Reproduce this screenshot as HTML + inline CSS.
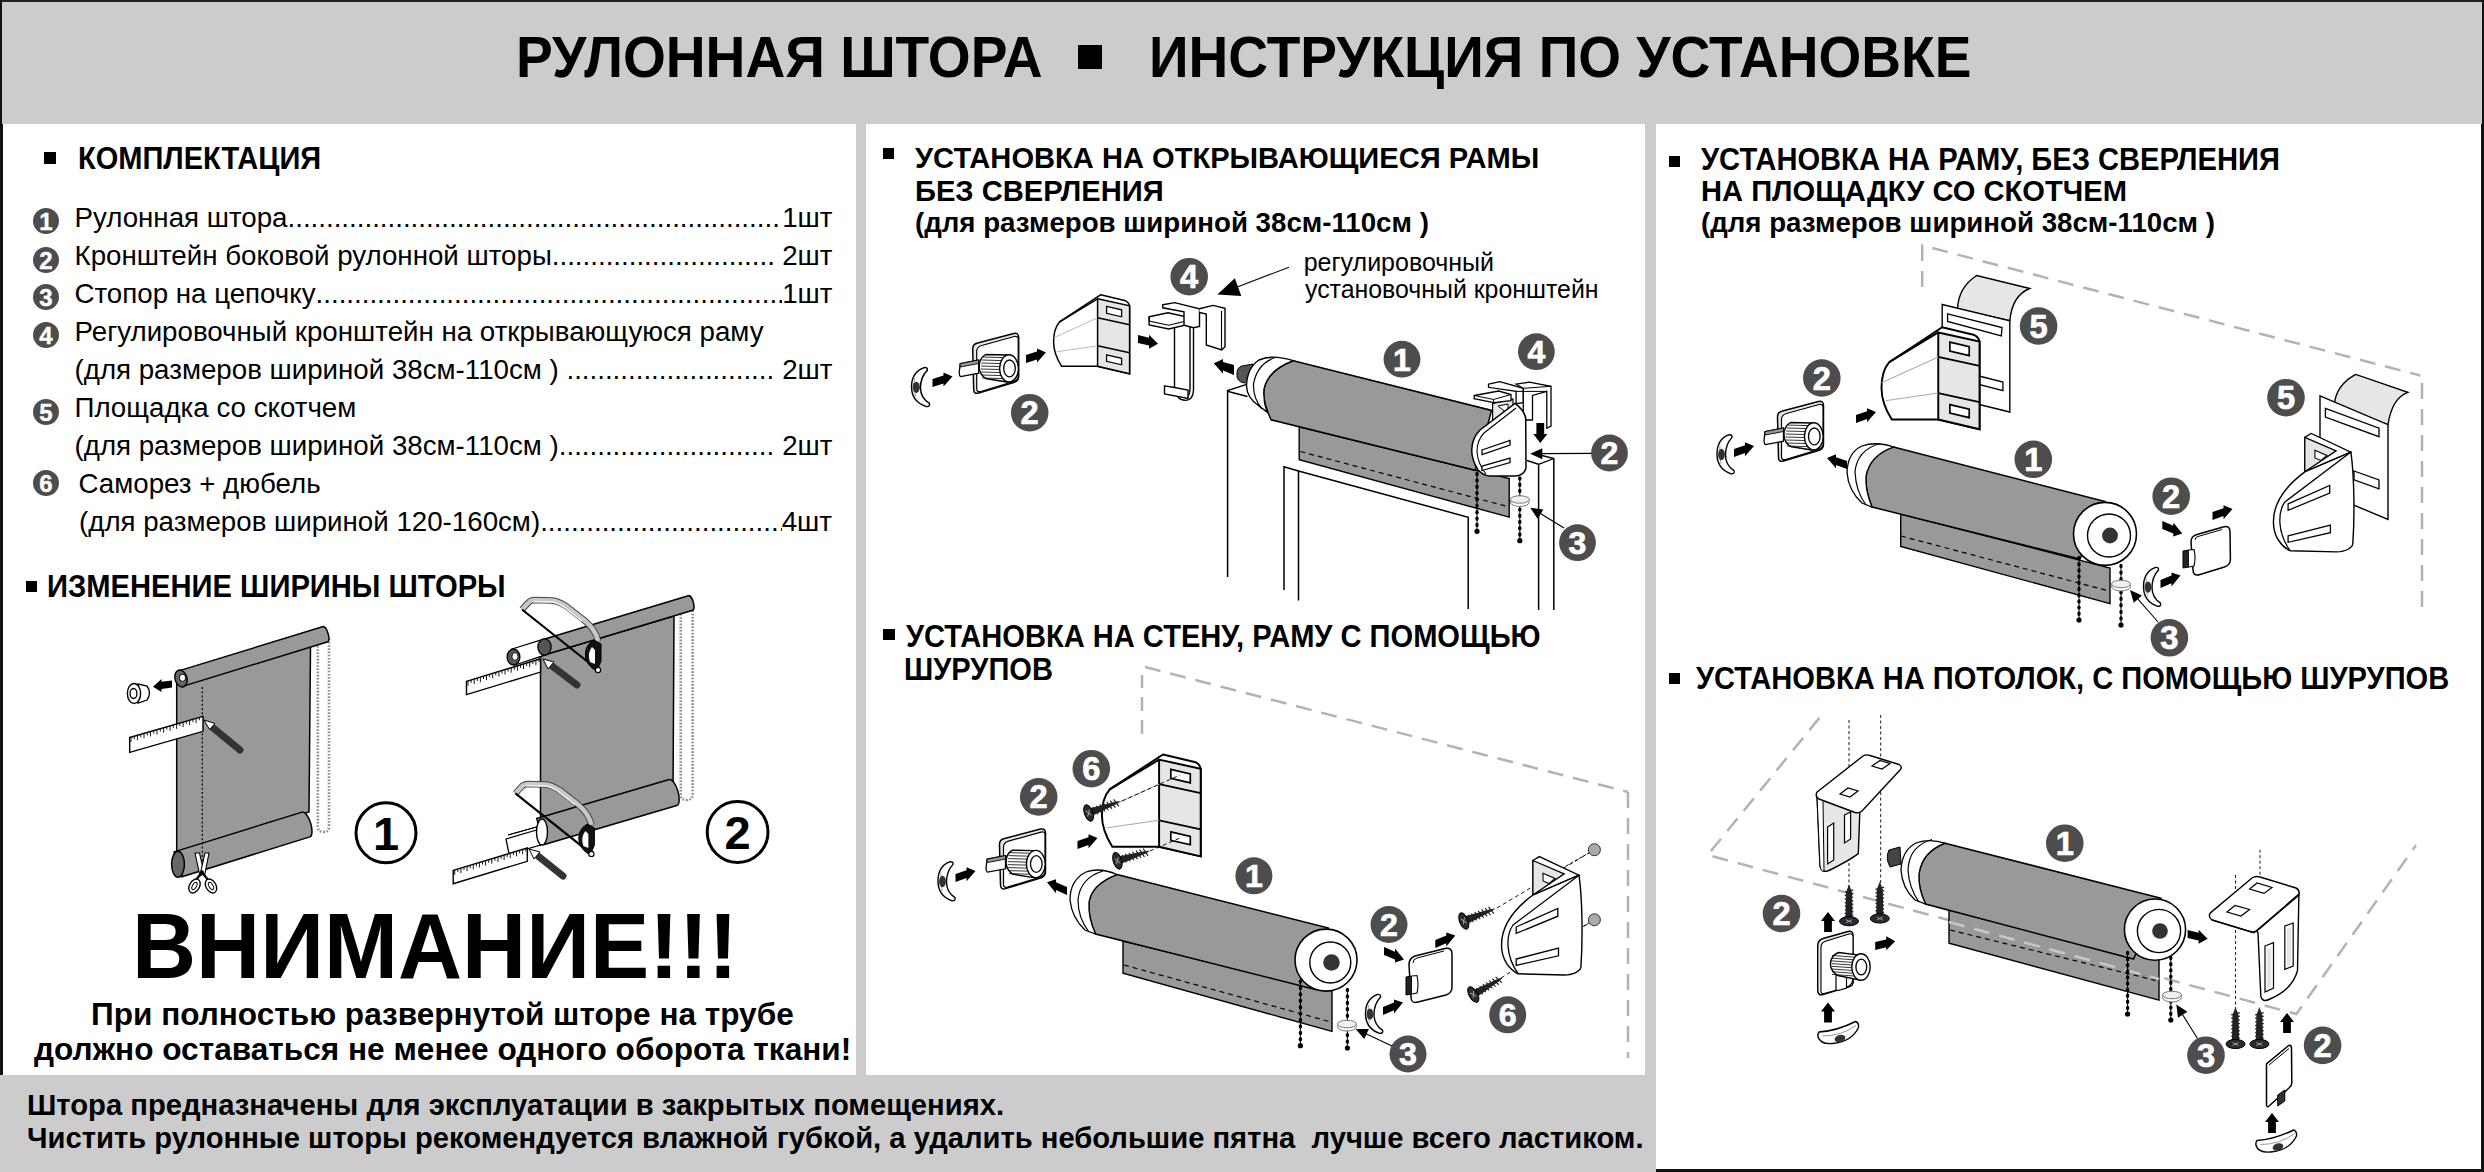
<!DOCTYPE html>
<html><head><meta charset="utf-8">
<style>
*{margin:0;padding:0;box-sizing:border-box}
html,body{width:2484px;height:1172px;overflow:hidden;background:#fff}
body{position:relative;font-family:"Liberation Sans",sans-serif;color:#000}
.a{position:absolute;white-space:nowrap;line-height:1;transform-origin:0 0}
.b{font-weight:bold}
.r{position:absolute}
.sq{position:absolute;background:#000}
svg{position:absolute;left:0;top:0}
</style></head><body>
<div class="r" style="left:0;top:0;width:2484px;height:2px;background:#222"></div>
<div class="r" style="left:0;top:0;width:3px;height:1075px;background:#111"></div>
<div class="r" style="left:2481px;top:0;width:3px;height:1172px;background:#111"></div>
<div class="r" style="left:1654px;top:1169px;width:830px;height:3px;background:#111"></div>
<div class="r" style="left:2px;top:2px;width:2480px;height:122px;background:#cccccc"></div>
<div class="r" style="left:856px;top:123px;width:10px;height:952px;background:#cccccc"></div>
<div class="r" style="left:1645px;top:123px;width:11px;height:1049px;background:#cccccc"></div>
<div class="r" style="left:0;top:1075px;width:1656px;height:97px;background:#cccccc"></div>
<div class="sq" style="left:1078px;top:45px;width:24px;height:24px"></div>
<div class="sq" style="left:44px;top:152px;width:12px;height:12px"></div>
<div class="sq" style="left:26px;top:581px;width:11px;height:11px"></div>
<div class="sq" style="left:883px;top:148px;width:11px;height:11px"></div>
<div class="sq" style="left:883px;top:629px;width:12px;height:11px"></div>
<div class="sq" style="left:1669px;top:156px;width:11px;height:11px"></div>
<div class="sq" style="left:1669px;top:673px;width:11px;height:11px"></div>

<div class="a b" style="left:515.5px;top:30.3px;font-size:56.69px;transform:scaleX(0.9724);">РУЛОННАЯ ШТОРА</div>
<div class="a b" style="left:1148.7px;top:30.3px;font-size:56.69px;transform:scaleX(0.9707);">ИНСТРУКЦИЯ ПО УСТАНОВКЕ</div>
<div class="a b" style="left:78.4px;top:143.0px;font-size:30.52px;transform:scaleX(0.9508);">КОМПЛЕКТАЦИЯ</div>
<div class="a b" style="left:46.9px;top:571.2px;font-size:30.52px;transform:scaleX(0.9559);">ИЗМЕНЕНИЕ ШИРИНЫ ШТОРЫ</div>
<div class="a b" style="left:914.9px;top:143.3px;font-size:30.23px;transform:scaleX(0.9631);">УСТАНОВКА НА ОТКРЫВАЮЩИЕСЯ РАМЫ</div>
<div class="a b" style="left:915.1px;top:176.1px;font-size:29.94px;transform:scaleX(0.9732);">БЕЗ СВЕРЛЕНИЯ</div>
<div class="a b" style="left:914.7px;top:208.9px;font-size:28.00px;transform:scaleX(0.9884);">(для размеров шириной 38см-110см )</div>
<div class="a b" style="left:905.5px;top:621.2px;font-size:30.52px;transform:scaleX(0.9531);">УСТАНОВКА НА СТЕНУ, РАМУ С ПОМОЩЬЮ</div>
<div class="a b" style="left:904.3px;top:653.7px;font-size:30.52px;transform:scaleX(0.9529);">ШУРУПОВ</div>
<div class="a" style="left:1303.7px;top:249.6px;font-size:25.00px;">регулировочный</div>
<div class="a" style="left:1305.2px;top:277.3px;font-size:25.00px;transform:scaleX(0.9950);">установочный кронштейн</div>
<div class="a b" style="left:1701.0px;top:143.6px;font-size:30.52px;transform:scaleX(0.9543);">УСТАНОВКА НА РАМУ, БЕЗ СВЕРЛЕНИЯ</div>
<div class="a b" style="left:1701.0px;top:176.3px;font-size:30.23px;transform:scaleX(0.9638);">НА ПЛОЩАДКУ СО СКОТЧЕМ</div>
<div class="a b" style="left:1700.7px;top:209.4px;font-size:28.00px;transform:scaleX(0.9886);">(для размеров шириной 38см-110см )</div>
<div class="a b" style="left:1695.8px;top:663.3px;font-size:31.25px;transform:scaleX(0.9306);">УСТАНОВКА НА ПОТОЛОК, С ПОМОЩЬЮ ШУРУПОВ</div>
<div class="a b" style="left:132.4px;top:900.3px;font-size:92.73px;transform:scaleX(0.9573);">ВНИМАНИЕ!!!</div>
<div class="a b" style="left:90.8px;top:998.5px;font-size:31.25px;transform:scaleX(1.0102);">При полностью развернутой шторе на трубе</div>
<div class="a b" style="left:34.2px;top:1034.1px;font-size:31.25px;transform:scaleX(1.0112);">должно оставаться не менее одного оборота ткани!</div>
<div class="a b" style="left:26.6px;top:1091.4px;font-size:29.07px;transform:scaleX(1.0051);">Штора предназначены для эксплуатации в закрытых помещениях.</div>
<div class="a b" style="left:26.9px;top:1123.9px;font-size:29.07px;transform:scaleX(1.0044);">Чистить рулонные шторы рекомендуется влажной губкой, а удалить небольшие пятна&nbsp; лучше всего ластиком.</div>
<style>
.ld{position:absolute;display:flex;white-space:nowrap;line-height:1;font-size:27.7px}
.ld .d{flex:1 1 0;overflow:hidden;min-width:0}
.ci{position:absolute;width:26px;height:26px;border-radius:50%;background:#4d4d4d;color:#fff;font-weight:bold;font-size:24px;line-height:28px;-webkit-text-stroke:0.4px #fff;text-align:center}
</style>
<div class="ld" style="left:74.5px;top:203.85px;width:758px"><span>Рулонная штора</span><span class="d">..............................................................................................................</span><span>1шт</span></div>
<div class="ld" style="left:74.5px;top:241.9px;width:758px"><span>Кронштейн боковой рулонной шторы</span><span class="d">..............................................................................................................</span><span>&nbsp;2шт</span></div>
<div class="ld" style="left:74.5px;top:279.95px;width:758px"><span>Стопор на цепочку</span><span class="d">..............................................................................................................</span><span>1шт</span></div>
<div class="ld" style="left:74.5px;top:318px;width:758px"><span>Регулировочный кронштейн на открывающуюся раму</span></div>
<div class="ld" style="left:74.5px;top:356.05px;width:758px"><span>(для размеров шириной 38см-110см )&nbsp;</span><span class="d">..............................................................................................................</span><span>&nbsp;2шт</span></div>
<div class="ld" style="left:74.5px;top:394.1px;width:758px"><span>Площадка со скотчем</span></div>
<div class="ld" style="left:74.5px;top:432.15px;width:758px"><span>(для размеров шириной 38см-110см )</span><span class="d">..............................................................................................................</span><span>&nbsp;2шт</span></div>
<div class="ld" style="left:78.5px;top:470.2px;width:754px"><span>Саморез + дюбель</span></div>
<div class="ld" style="left:79px;top:508.25px;width:753px"><span>(для размеров шириной 120-160см)</span><span class="d">..............................................................................................................</span><span>4шт</span></div>
<div class="ci" style="left:33px;top:208.3px">1</div>
<div class="ci" style="left:33px;top:246.9px">2</div>
<div class="ci" style="left:33px;top:284px">3</div>
<div class="ci" style="left:33px;top:322px">4</div>
<div class="ci" style="left:33px;top:399px">5</div>
<div class="ci" style="left:33px;top:469.6px">6</div>

<svg width="2484" height="1172" viewBox="0 0 2484 1172" style="position:absolute;left:0;top:0">
<path d="M317.8,646 L317.8,826 Q317.8,832 323.4,832 Q329,832 329,826 L329,639" fill="none" stroke="#8a8a8a" stroke-width="2.6" stroke-dasharray="1.6,1.6"/>
<polygon points="176.7,684.0 310.5,646.0 309.0,812.0 176.7,852.0" fill="#999" stroke="#000" stroke-width="1.5"/>
<path d="M178.7,670.9 L323.2,626.6 A8 3.0 73.0 0 1 327.8,641.8 L183.3,686.1 Z" fill="#999" stroke="#000" stroke-width="1.5"/>
<ellipse cx="181" cy="678.5" rx="6" ry="8.6" fill="#666" stroke="#000" stroke-width="1.4" transform="rotate(-17 181 678.5)"/>
<ellipse cx="182.5" cy="677.8" rx="3.2" ry="3.6" fill="#fff" stroke="#000" stroke-width="1"/>
<path d="M174.1,851.9 L302.1,812.1 A13 4.9 72.7 0 1 309.9,836.9 L181.9,876.7 Z" fill="#999" stroke="#000" stroke-width="1.5"/>
<ellipse cx="178" cy="864.3" rx="6.4" ry="13" fill="#666" stroke="#000" stroke-width="1.5"/>
<line x1="202.3" y1="687" x2="202.3" y2="876" stroke="#000" stroke-width="1.2" stroke-dasharray="2,2.2"/>
<polygon points="129.7,737.5 203.0,716.4 203.0,731.3 129.7,752.3" fill="#fff" stroke="#000" stroke-width="1.4"/>
<path d="M131.0,737.1 l0,5 M134.3,736.2 l0,3 M137.5,735.2 l0,5 M140.8,734.3 l0,3 M144.0,733.3 l0,5 M147.3,732.4 l0,3 M150.5,731.4 l0,5 M153.8,730.5 l0,3 M157.0,729.5 l0,5 M160.3,728.6 l0,3 M163.6,727.7 l0,5 M166.8,726.7 l0,3 M170.1,725.8 l0,5 M173.3,724.8 l0,3 M176.6,723.9 l0,5 M179.8,722.9 l0,3 M183.1,722.0 l0,5 M186.3,721.0 l0,3 M189.6,720.1 l0,5 M192.9,719.2 l0,3 M196.1,718.2 l0,5 M199.4,717.3 l0,3" stroke="#000" stroke-width="0.9"/>
<line x1="212" y1="727" x2="240" y2="750" stroke="#333" stroke-width="7" stroke-linecap="round"/>
<polygon points="204,720 215,723.5 209.5,729.5" fill="#fff" stroke="#000" stroke-width="1"/>
<path d="M195,853 L199.5,853 L204,873 L200,876 Z" fill="#fff" stroke="#000" stroke-width="1.1"/>
<path d="M209,853 L205,853 L200.5,873 L204.5,876 Z" fill="#fff" stroke="#000" stroke-width="1.1"/>
<path d="M202,872 L196,880 M202,872 L208,880" stroke="#000" stroke-width="2.2"/>
<ellipse cx="194.5" cy="886" rx="5" ry="7.5" transform="rotate(30 194.5 886)" fill="#fff" stroke="#000" stroke-width="1.4"/>
<ellipse cx="194.5" cy="886" rx="2" ry="4" transform="rotate(30 194.5 886)" fill="#fff" stroke="#000" stroke-width="1"/>
<ellipse cx="211" cy="886" rx="5" ry="7.5" transform="rotate(-30 211 886)" fill="#fff" stroke="#000" stroke-width="1.4"/>
<ellipse cx="211" cy="886" rx="2" ry="4" transform="rotate(-30 211 886)" fill="#fff" stroke="#000" stroke-width="1"/>
<circle cx="202" cy="872" r="1.8" fill="#000"/>
<path d="M138,684 L147,686 Q152,693 147,700 L138,703 Z" fill="#fff" stroke="#000" stroke-width="1.3"/>
<ellipse cx="134" cy="693.5" rx="6.6" ry="10" fill="#fff" stroke="#000" stroke-width="1.4"/>
<ellipse cx="133.5" cy="693.5" rx="3.4" ry="5" fill="#fff" stroke="#000" stroke-width="1.3"/>
<polygon transform="matrix(-1,0.1385,0,1,172,684)" points="0.0,-3.6 10.5,-3.6 10.5,-6.5 19.0,0.0 10.5,6.5 10.5,3.6 0.0,3.6" fill="#000"/>
<circle cx="386" cy="832.8" r="30" fill="#fff" stroke="#000" stroke-width="3"/>
<text x="386" y="849.6" font-size="47" font-weight="bold" fill="#000" text-anchor="middle" font-family="Liberation Sans">1</text>
<path d="M680.7,614 L680.7,794 Q680.7,800 686.6,800 Q692.6,800 692.6,794 L692.6,608" fill="none" stroke="#8a8a8a" stroke-width="2.6" stroke-dasharray="1.6,1.6"/>
<polygon points="540.5,656.0 674.0,616.0 673.0,796.0 540.5,831.0" fill="#999" stroke="#000" stroke-width="1.5"/>
<path d="M542.3,639.7 L688.3,595.7 A7.6 2.9 73.2 0 1 692.7,610.3 L546.7,654.3 Z" fill="#999" stroke="#000" stroke-width="1.5"/>
<polygon points="512.0,649.0 543.0,639.3 546.0,654.7 515.0,665.0" fill="#fff" stroke="#000" stroke-width="1.3"/>
<ellipse cx="544.5" cy="647" rx="6.6" ry="8.2" fill="#555" stroke="#000" stroke-width="1.3"/>
<ellipse cx="513.5" cy="657" rx="6.4" ry="8" fill="#555" stroke="#000" stroke-width="1.3"/>
<ellipse cx="515" cy="656.5" rx="3" ry="3.8" fill="#fff" stroke="#000" stroke-width="0.8"/>
<path d="M536.7,818.5 L669.2,779.5 A13.5 5.1 73.6 0 1 676.8,805.5 L544.3,844.5 Z" fill="#999" stroke="#000" stroke-width="1.5"/>
<polygon points="506.0,839.0 540.0,829.0 544.0,844.0 509.0,854.0" fill="#fff" stroke="#000" stroke-width="1.3"/>
<polygon points="508.0,835.0 540.0,826.0" fill="none" stroke="#000" stroke-width="1"/>
<ellipse cx="542" cy="832" rx="5.5" ry="13" fill="#fff" stroke="#000" stroke-width="1.4"/>
<polygon points="466.5,681.3 540.5,658.8 540.5,672.1 466.5,694.6" fill="#fff" stroke="#000" stroke-width="1.4"/>
<path d="M468.0,680.8 l0,5 M471.1,679.9 l0,3 M474.2,679.0 l0,5 M477.3,678.0 l0,3 M480.4,677.1 l0,5 M483.5,676.1 l0,3 M486.5,675.2 l0,5 M489.6,674.3 l0,3 M492.7,673.3 l0,5 M495.8,672.4 l0,3 M498.9,671.5 l0,5 M502.0,670.5 l0,3 M505.0,669.6 l0,5 M508.1,668.6 l0,3 M511.2,667.7 l0,5 M514.3,666.8 l0,3 M517.4,665.8 l0,5 M520.5,664.9 l0,3 M523.5,664.0 l0,5 M526.6,663.0 l0,3 M529.7,662.1 l0,5 M532.8,661.1 l0,3 M535.9,660.2 l0,5 M539.0,659.3 l0,3" stroke="#000" stroke-width="0.9"/>
<polygon points="453.2,870.4 527.3,848.0 527.3,861.3 453.2,883.7" fill="#fff" stroke="#000" stroke-width="1.4"/>
<path d="M454.7,869.9 l0,5 M457.8,869.0 l0,3 M460.9,868.1 l0,5 M464.0,867.1 l0,3 M467.1,866.2 l0,5 M470.2,865.3 l0,3 M473.3,864.3 l0,5 M476.4,863.4 l0,3 M479.4,862.5 l0,5 M482.5,861.5 l0,3 M485.6,860.6 l0,5 M488.7,859.7 l0,3 M491.8,858.7 l0,5 M494.9,857.8 l0,3 M498.0,856.9 l0,5 M501.1,855.9 l0,3 M504.1,855.0 l0,5 M507.2,854.1 l0,3 M510.3,853.1 l0,5 M513.4,852.2 l0,3 M516.5,851.3 l0,5 M519.6,850.3 l0,3 M522.7,849.4 l0,5 M525.8,848.5 l0,3" stroke="#000" stroke-width="0.9"/>
<line x1="552" y1="666" x2="577" y2="685" stroke="#333" stroke-width="7" stroke-linecap="round"/>
<polygon points="543,659 554,662 548,669" fill="#fff" stroke="#000" stroke-width="1"/>
<line x1="538" y1="856" x2="563" y2="876" stroke="#333" stroke-width="7" stroke-linecap="round"/>
<polygon points="529,849 540,852 534,859" fill="#fff" stroke="#000" stroke-width="1"/>
<g transform="translate(0,0)"><path d="M522,609.5 L529,602 Q531,600 535,600 L552,600.5 Q558,601 566,606 L584,620 Q596,630 598,641" fill="none" stroke="#444" stroke-width="6.5" stroke-linejoin="round"/><path d="M522,609.5 L529,602 Q531,600 535,600 L552,600.5 Q558,601 566,606 L584,620 Q596,630 598,641" fill="none" stroke="#c8c8c8" stroke-width="4.5" stroke-linejoin="round"/><path d="M533,601.5 L552,602 Q557,602.5 564,607 L582,621" fill="none" stroke="#eee" stroke-width="1.5"/><line x1="522" y1="609.5" x2="598" y2="670" stroke="#000" stroke-width="2.2"/><path d="M594,640 Q583,646 586,660 Q590,668 597,671 L601,661 L601,644 Z" fill="#111" stroke="#000" stroke-width="1"/><path d="M592,647 Q587,653 590,662 L595,664 L595,650 Z" fill="#fff"/><circle cx="598" cy="670" r="2.6" fill="#fff" stroke="#000" stroke-width="1.2"/></g>
<g transform="translate(-6.6,183.9)"><path d="M522,609.5 L529,602 Q531,600 535,600 L552,600.5 Q558,601 566,606 L584,620 Q596,630 598,641" fill="none" stroke="#444" stroke-width="6.5" stroke-linejoin="round"/><path d="M522,609.5 L529,602 Q531,600 535,600 L552,600.5 Q558,601 566,606 L584,620 Q596,630 598,641" fill="none" stroke="#c8c8c8" stroke-width="4.5" stroke-linejoin="round"/><path d="M533,601.5 L552,602 Q557,602.5 564,607 L582,621" fill="none" stroke="#eee" stroke-width="1.5"/><line x1="522" y1="609.5" x2="598" y2="670" stroke="#000" stroke-width="2.2"/><path d="M594,640 Q583,646 586,660 Q590,668 597,671 L601,661 L601,644 Z" fill="#111" stroke="#000" stroke-width="1"/><path d="M592,647 Q587,653 590,662 L595,664 L595,650 Z" fill="#fff"/><circle cx="598" cy="670" r="2.6" fill="#fff" stroke="#000" stroke-width="1.2"/></g>
<circle cx="737.6" cy="832" r="30.4" fill="#fff" stroke="#000" stroke-width="3"/>
<text x="737.6" y="848.8" font-size="47" font-weight="bold" fill="#000" text-anchor="middle" font-family="Liberation Sans">2</text>
</svg>

<svg width="2484" height="1172" viewBox="0 0 2484 1172" style="position:absolute;left:0;top:0">
<polyline points="1227.6,577 1227.6,390.5 1246,384.6" stroke="#000" stroke-width="1.5" fill="none"/>
<polyline points="1284,590 1284,466.7 1298.5,471" stroke="#000" stroke-width="1.5" fill="none"/>
<polyline points="1298.5,600.5 1298.5,471 1468.2,517.2 1468.2,609" stroke="#000" stroke-width="1.5" fill="none"/>
<polyline points="1538.6,610 1538.6,464.4 1527,460.5" stroke="#000" stroke-width="1.5" fill="none"/>
<polyline points="1553.8,610 1553.8,458.5 1540,455" stroke="#000" stroke-width="1.5" fill="none"/>
<line x1="1538.6" y1="464.4" x2="1553.8" y2="458.5" stroke="#000" stroke-width="1.3"/>
<polygon points="1299.2,426.8 1509.2,478.5 1509.2,517.2 1299.2,459.7" fill="#999" stroke="#000" stroke-width="1.4"/>
<line x1="1300.4" y1="451.5" x2="1508" y2="506.6" stroke="#000" stroke-width="1.2" stroke-dasharray="5,4"/>
<path d="M1293.3,360.7 L1491.6,410.4 L1475.2,470.3 L1271,419.8 Q1262,400 1264,389 Q1268,370 1293.3,360.7 Z" fill="#999" stroke="#000" stroke-width="1.5"/>
<path d="M1242,366 L1253,364 L1255,381 L1244,383 Q1236,381 1237,374 Q1237,367 1242,366 Z" fill="#555" stroke="#000" stroke-width="1"/>
<path d="M1293.3,360.7 Q1268,370 1264,389 Q1263,401 1267,412 L1259,406 Q1247,398 1246.5,386 Q1247,368 1259,360 Q1272,354 1293.3,360.7 Z" fill="#fff" stroke="#000" stroke-width="1.4"/>
<path d="M1275,357.5 Q1257,364 1253.5,384 Q1253,398 1262,409" fill="none" stroke="#000" stroke-width="1.2"/>
<polyline points="1227.3,391.3 1247.5,396.5" fill="none" stroke="#000" stroke-width="1.4"/>
<polygon transform="matrix(-1,-0.3896,0,1,1234,371)" points="0.0,-3.9 11.0,-3.9 11.0,-7.0 20.0,0.0 11.0,7.0 11.0,3.9 0.0,3.9" fill="#000"/>
<path d="M1492.6,403.7 L1513,399 L1513,422 L1492.6,426 Z" fill="#e6e6e6" stroke="#000" stroke-width="1.2"/>
<path d="M1498,406 L1508,404 L1508,414 Z" fill="#fff" stroke="#000" stroke-width="1"/>
<path d="M1474.2,395.5 L1498.7,391 L1511,394.5 L1511,400.6 L1493.6,402.7 L1474.2,398.6 Z" fill="#fff" stroke="#000" stroke-width="1.3"/>
<path d="M1474.2,395.5 L1493.6,399.5 L1511,394.5 M1493.6,399.5 L1493.6,402.7" fill="none" stroke="#000" stroke-width="1"/>
<path d="M1488.5,384.2 L1499.8,381.6 L1523.3,388.3 L1523.3,402.7 L1516.1,403.7 L1516.1,391.4 L1488.5,387.3 Z" fill="#fff" stroke="#000" stroke-width="1.3"/>
<path d="M1516.1,384.2 L1529.4,382.2 L1551,386.3 L1551,426.2 L1546.8,428.3 L1546.8,391.4 L1532.5,395.5 L1532.5,420 L1523.3,420 L1523.3,388.3 Z" fill="#fff" stroke="#000" stroke-width="1.3"/>
<path d="M1516.1,391.4 L1546.8,391.4 M1523.3,388.3 L1551,386.3" fill="none" stroke="#000" stroke-width="1"/>
<path d="M1515,403.4 Q1524,410 1525.7,418 L1526,468 Q1524,476 1515,476 L1490,476 Q1484,476 1478,470 Q1471.7,460 1471.7,450 Q1472,438 1480,430 Z" fill="#fff" stroke="#000" stroke-width="1.5"/>
<path d="M1477,452 Q1477,440 1484,433 L1516,408" fill="none" stroke="#000" stroke-width="1.1"/>
<path d="M1477,452 Q1478,464 1486,474" fill="none" stroke="#000" stroke-width="1.1"/>
<polygon points="1482,450 1510,440.5 1510,445 1482,454.5" fill="#fff" stroke="#000" stroke-width="1.3"/>
<polygon points="1482,466 1510,458 1510,462.5 1482,470.5" fill="#fff" stroke="#000" stroke-width="1.3"/>
<polygon transform="translate(1540.3,423) rotate(90)" points="0.0,-3.9 11.0,-3.9 11.0,-7.0 20.0,0.0 11.0,7.0 11.0,3.9 0.0,3.9" fill="#000"/>
<line x1="1477" y1="474" x2="1477" y2="531.3" stroke="#000" stroke-width="1"/>
<ellipse cx="1477" cy="474.0" rx="1.7" ry="2.2" fill="#000"/>
<ellipse cx="1477" cy="480.4" rx="1.7" ry="2.2" fill="#000"/>
<ellipse cx="1477" cy="486.7" rx="1.7" ry="2.2" fill="#000"/>
<ellipse cx="1477" cy="493.1" rx="1.7" ry="2.2" fill="#000"/>
<ellipse cx="1477" cy="499.5" rx="1.7" ry="2.2" fill="#000"/>
<ellipse cx="1477" cy="505.8" rx="1.7" ry="2.2" fill="#000"/>
<ellipse cx="1477" cy="512.2" rx="1.7" ry="2.2" fill="#000"/>
<ellipse cx="1477" cy="518.6" rx="1.7" ry="2.2" fill="#000"/>
<ellipse cx="1477" cy="524.9" rx="1.7" ry="2.2" fill="#000"/>
<ellipse cx="1477" cy="531.3" rx="1.7" ry="2.2" fill="#000"/>
<circle cx="1477" cy="531.3" r="2.6" fill="#000"/>
<line x1="1519.8" y1="478.5" x2="1519.8" y2="540.7" stroke="#000" stroke-width="1"/>
<ellipse cx="1519.8" cy="478.5" rx="1.7" ry="2.2" fill="#000"/>
<ellipse cx="1519.8" cy="484.7" rx="1.7" ry="2.2" fill="#000"/>
<ellipse cx="1519.8" cy="490.9" rx="1.7" ry="2.2" fill="#000"/>
<ellipse cx="1519.8" cy="497.2" rx="1.7" ry="2.2" fill="#000"/>
<ellipse cx="1519.8" cy="503.4" rx="1.7" ry="2.2" fill="#000"/>
<ellipse cx="1519.8" cy="509.6" rx="1.7" ry="2.2" fill="#000"/>
<ellipse cx="1519.8" cy="515.8" rx="1.7" ry="2.2" fill="#000"/>
<ellipse cx="1519.8" cy="522.0" rx="1.7" ry="2.2" fill="#000"/>
<ellipse cx="1519.8" cy="528.3" rx="1.7" ry="2.2" fill="#000"/>
<ellipse cx="1519.8" cy="534.5" rx="1.7" ry="2.2" fill="#000"/>
<ellipse cx="1519.8" cy="540.7" rx="1.7" ry="2.2" fill="#000"/>
<circle cx="1519.8" cy="540.7" r="2.6" fill="#000"/>
<ellipse cx="1519.8" cy="502.0" rx="9.5" ry="4.5" fill="#fff" stroke="#777" stroke-width="1"/>
<ellipse cx="1519.8" cy="499.5" rx="9.5" ry="3.75" fill="#f0f0f0" stroke="#777" stroke-width="1"/>
<line x1="1592" y1="453.3" x2="1540" y2="453.6" stroke="#000" stroke-width="1.3"/>
<polygon transform="translate(1530.3,453.8) rotate(180)" points="0.0,0.0 -12.0,-5.5 -12.0,5.5" fill="#000"/>
<line x1="1564" y1="528" x2="1538" y2="512" stroke="#000" stroke-width="1.1"/>
<polygon transform="translate(1530.3,507.8) rotate(212)" points="0.0,0.0 -12.0,-5.5 -12.0,5.5" fill="#000"/>
<circle cx="1402" cy="359.2" r="18.4" fill="#4d4d4d"/>
<text x="1402" y="370.5" font-size="32.0" font-weight="bold" fill="#fff" stroke="#fff" stroke-width="0.7" text-anchor="middle" font-family="Liberation Sans">1</text>
<circle cx="1536.4" cy="351.7" r="18.4" fill="#4d4d4d"/>
<text x="1536.4" y="363.0" font-size="32.0" font-weight="bold" fill="#fff" stroke="#fff" stroke-width="0.7" text-anchor="middle" font-family="Liberation Sans">4</text>
<circle cx="1609.5" cy="453" r="18.4" fill="#4d4d4d"/>
<text x="1609.5" y="464.3" font-size="32.0" font-weight="bold" fill="#fff" stroke="#fff" stroke-width="0.7" text-anchor="middle" font-family="Liberation Sans">2</text>
<circle cx="1577.5" cy="542.7" r="18.4" fill="#4d4d4d"/>
<text x="1577.5" y="554.0" font-size="32.0" font-weight="bold" fill="#fff" stroke="#fff" stroke-width="0.7" text-anchor="middle" font-family="Liberation Sans">3</text>
<g transform="translate(921,386.8) rotate(0) scale(1.053,0.976)"><path d="M2.5,-19.5 Q6.5,-20.5 6,-17 C0.5,-11 -0.5,-5 -0.5,1 C-0.5,8 2,13 8,17 Q9,20.5 5,20.3 C-5.5,16.5 -9,9 -9,0 C-9,-9 -6,-16 2.5,-19.5 Z" fill="#fff" stroke="#000" stroke-width="1.4"/><path d="M-6,-9 Q-7.5,0 -5,10" fill="none" stroke="#aaa" stroke-width="1"/><ellipse cx="-4.5" cy="0.5" rx="3.4" ry="5.8" fill="#333"/></g>
<polygon transform="matrix(1,-0.3190,0,1,932.5,383)" points="0.0,-3.9 11.0,-3.9 11.0,-7.0 20.0,0.0 11.0,7.0 11.0,3.9 0.0,3.9" fill="#000"/>
<g transform="translate(959.7,338) scale(1.0)"><path d="M13,11 Q13,6 18,5 L54,-4.5 Q59,-5.5 59,-0.5 L59,38 Q59,43 54,44.5 L19,55 Q14,56.5 14,51.5 Z" fill="#e6e6e6" stroke="#000" stroke-width="1.5"/><path d="M17,13.5 Q17,9 22,7.5 L54.5,-1.5 Q58.5,-2.5 58.5,1.5 L58.5,38 Q58.5,42 54,43.5 L21,53.5 Q17,54.5 17,50.5 Z" fill="#fff" stroke="#000" stroke-width="1.2"/><path d="M0.5,25.6 L19,22 L19,35.2 L1,38.6 Q-0.5,38 -0.5,35 Z" fill="#fff" stroke="#000" stroke-width="1.3"/><path d="M0.5,25.6 L19,22 L19,25.5 L0.5,29 Z" fill="#999" stroke="#000" stroke-width="0.9"/><path d="M26,16.5 L47,17 Q58.5,19 58.5,30.5 Q58.5,42 47,44 L26,40.5 Q19.5,36 19.5,28.5 Q19.5,20 26,16.5 Z" fill="#fff" stroke="#000" stroke-width="1.4"/><line x1="22.4" y1="19" x2="43" y2="19.6" stroke="#000" stroke-width="0.8"/><line x1="22.0" y1="22" x2="43" y2="22.6" stroke="#000" stroke-width="0.8"/><line x1="21.6" y1="25" x2="43" y2="25.6" stroke="#000" stroke-width="0.8"/><line x1="21.2" y1="28" x2="43" y2="28.6" stroke="#000" stroke-width="0.8"/><line x1="21.2" y1="31" x2="43" y2="31.6" stroke="#000" stroke-width="0.8"/><line x1="21.6" y1="34" x2="43" y2="34.6" stroke="#000" stroke-width="0.8"/><line x1="22.0" y1="37" x2="43" y2="37.6" stroke="#000" stroke-width="0.8"/><line x1="22.4" y1="40" x2="43" y2="40.6" stroke="#000" stroke-width="0.8"/><ellipse cx="49.3" cy="30.4" rx="9.4" ry="13.6" fill="#fff" stroke="#000" stroke-width="1.4"/><ellipse cx="49.8" cy="30.4" rx="5.8" ry="8.4" fill="#fff" stroke="#000" stroke-width="1.3"/></g>
<polygon transform="matrix(1,-0.3190,0,1,1026,359)" points="0.0,-3.9 11.0,-3.9 11.0,-7.0 20.0,0.0 11.0,7.0 11.0,3.9 0.0,3.9" fill="#000"/>
<g transform="translate(1053.6,293.8) scale(1.0,1.0)"><path d="M47,1 L72,7 Q76,9 76,13 L76,80 L44,72.5 L8,72.5 Q0,60 0,48 Q0,35 6,28 Z" fill="#fff" stroke="#000" stroke-width="1.5"/><path d="M44,5 L76,12 L76,80 L44,72.5 Z" fill="#e6e6e6" stroke="#000" stroke-width="1.5"/><path d="M6,28 L44,5" fill="none" stroke="#000" stroke-width="1.5"/><line x1="44" y1="24" x2="76" y2="31" stroke="#000" stroke-width="1.4"/><line x1="44" y1="52" x2="76" y2="59" stroke="#000" stroke-width="1.4"/><line x1="0" y1="44" x2="44" y2="24" stroke="#aaa" stroke-width="0.8"/><line x1="3" y1="58" x2="44" y2="52" stroke="#aaa" stroke-width="0.8"/><polygon points="53,12.5 68,16 68,23 53,19.5" fill="#fff" stroke="#000" stroke-width="1.3"/><polygon points="53,61 68,64.5 68,71 53,67.5" fill="#fff" stroke="#000" stroke-width="1.3"/></g>
<polygon transform="matrix(1,0.2424,0,1,1138,339)" points="0.0,-3.9 11.0,-3.9 11.0,-7.0 20.0,0.0 11.0,7.0 11.0,3.9 0.0,3.9" fill="#000"/>
<path d="M1174.5,326 L1174.5,387 M1190,326 L1190,388 Q1190,397 1185,398" fill="none" stroke="#000" stroke-width="1.4"/>
<path d="M1193.5,326 L1193.5,390 Q1193,400 1186,400.4 Q1180,400 1178,397" fill="none" stroke="#000" stroke-width="1.4"/>
<path d="M1164.5,385.9 L1174.5,387.5 L1188,390 L1188,398.5 L1164.5,394 Z" fill="#fff" stroke="#000" stroke-width="1.4"/>
<path d="M1149.1,316.8 L1168,312.8 L1186,316.8 L1186,325 L1168.8,329 L1149.1,325 Z" fill="#fff" stroke="#000" stroke-width="1.4"/>
<path d="M1149.1,316.8 L1149.1,321 L1168.8,325.3 L1186,321" fill="none" stroke="#000" stroke-width="1.1"/>
<path d="M1162.8,304.8 L1174.7,302.6 L1199.5,308.8 L1199.5,326.5 L1193.5,327.8 L1184,325.3 L1184,311.8 L1162.8,307.8 Z" fill="#fff" stroke="#000" stroke-width="1.4"/>
<path d="M1199.5,308.8 L1213,305.4 L1225,308.3 L1225,346.7 L1221.7,350 L1206.3,345 L1206.3,314 L1199.5,312.5" fill="#fff" stroke="#000" stroke-width="1.4"/>
<path d="M1221.5,311 L1221.5,349.5" fill="none" stroke="#000" stroke-width="1.1"/>
<polygon transform="matrix(-1,-0.2798,0,1,1234,369)" points="0.0,-3.9 11.0,-3.9 11.0,-7.0 20.0,0.0 11.0,7.0 11.0,3.9 0.0,3.9" fill="#000"/>
<circle cx="1189.2" cy="276.7" r="18.8" fill="#4d4d4d"/>
<text x="1189.2" y="288.2" font-size="32.7" font-weight="bold" fill="#fff" stroke="#fff" stroke-width="0.7" text-anchor="middle" font-family="Liberation Sans">4</text>
<circle cx="1029.7" cy="412.7" r="18.8" fill="#4d4d4d"/>
<text x="1029.7" y="424.2" font-size="32.7" font-weight="bold" fill="#fff" stroke="#fff" stroke-width="0.7" text-anchor="middle" font-family="Liberation Sans">2</text>
<line x1="1289" y1="267.2" x2="1232" y2="289" stroke="#000" stroke-width="1.1"/>
<polygon transform="translate(1217.4,294.6) rotate(160)" points="0.0,0.0 -22.0,-9.5 -22.0,9.5" fill="#000"/>
</svg>

<svg width="2484" height="1172" viewBox="0 0 2484 1172" style="position:absolute;left:0;top:0">
<polyline points="1142.0,734.0 1142.0,675.0" fill="none" stroke="#b3b3b3" stroke-width="2.5" stroke-dasharray="14,9"/>
<polyline points="1145.0,667.0 1628.0,792.0" fill="none" stroke="#b3b3b3" stroke-width="2.5" stroke-dasharray="16,10"/>
<polyline points="1628.0,792.0 1628.0,1058.0" fill="none" stroke="#b3b3b3" stroke-width="2.5" stroke-dasharray="16,10"/>
<g transform="translate(1101.9,753.2) scale(1.30,1.29)"><path d="M47,1 L72,7 Q76,9 76,13 L76,80 L44,72.5 L8,72.5 Q0,60 0,48 Q0,35 6,28 Z" fill="#fff" stroke="#000" stroke-width="1.5"/><path d="M44,5 L76,12 L76,80 L44,72.5 Z" fill="#e6e6e6" stroke="#000" stroke-width="1.5"/><path d="M6,28 L44,5" fill="none" stroke="#000" stroke-width="1.5"/><line x1="44" y1="24" x2="76" y2="31" stroke="#000" stroke-width="1.4"/><line x1="44" y1="52" x2="76" y2="59" stroke="#000" stroke-width="1.4"/><line x1="0" y1="44" x2="44" y2="24" stroke="#aaa" stroke-width="0.8"/><line x1="3" y1="58" x2="44" y2="52" stroke="#aaa" stroke-width="0.8"/><polygon points="53,12.5 68,16 68,23 53,19.5" fill="#fff" stroke="#000" stroke-width="1.3"/><polygon points="53,61 68,64.5 68,71 53,67.5" fill="#fff" stroke="#000" stroke-width="1.3"/></g>
<line x1="1122" y1="801" x2="1180" y2="775" stroke="#000" stroke-width="0.9" stroke-dasharray="4,3"/>
<line x1="1150" y1="851" x2="1180" y2="838" stroke="#000" stroke-width="0.9" stroke-dasharray="4,3"/>
<g transform="translate(1088.6,813) rotate(-20) scale(1.0)"><polygon points="2,-4 30,-1.2 34,0 30,1.2 2,4" fill="#222"/><line x1="6.0" y1="-4.2" x2="8.5" y2="4.2" stroke="#222" stroke-width="1.2"/><line x1="9.7" y1="-4.2" x2="12.2" y2="4.2" stroke="#222" stroke-width="1.2"/><line x1="13.4" y1="-4.2" x2="15.9" y2="4.2" stroke="#222" stroke-width="1.2"/><line x1="17.1" y1="-4.2" x2="19.6" y2="4.2" stroke="#222" stroke-width="1.2"/><line x1="20.8" y1="-4.2" x2="23.3" y2="4.2" stroke="#222" stroke-width="1.2"/><line x1="24.5" y1="-4.2" x2="27.0" y2="4.2" stroke="#222" stroke-width="1.2"/><line x1="28.200000000000003" y1="-4.2" x2="30.700000000000003" y2="4.2" stroke="#222" stroke-width="1.2"/><ellipse cx="0" cy="0" rx="4.2" ry="8.6" fill="#2a2a33" stroke="#000" stroke-width="1"/><path d="M-2,-3 L2,3 M2,-3 L-2,3" stroke="#aaa" stroke-width="0.9"/></g>
<g transform="translate(1117.4,860.8) rotate(-17) scale(1.0)"><polygon points="2,-4 30,-1.2 34,0 30,1.2 2,4" fill="#222"/><line x1="6.0" y1="-4.2" x2="8.5" y2="4.2" stroke="#222" stroke-width="1.2"/><line x1="9.7" y1="-4.2" x2="12.2" y2="4.2" stroke="#222" stroke-width="1.2"/><line x1="13.4" y1="-4.2" x2="15.9" y2="4.2" stroke="#222" stroke-width="1.2"/><line x1="17.1" y1="-4.2" x2="19.6" y2="4.2" stroke="#222" stroke-width="1.2"/><line x1="20.8" y1="-4.2" x2="23.3" y2="4.2" stroke="#222" stroke-width="1.2"/><line x1="24.5" y1="-4.2" x2="27.0" y2="4.2" stroke="#222" stroke-width="1.2"/><line x1="28.200000000000003" y1="-4.2" x2="30.700000000000003" y2="4.2" stroke="#222" stroke-width="1.2"/><ellipse cx="0" cy="0" rx="4.2" ry="8.6" fill="#2a2a33" stroke="#000" stroke-width="1"/><path d="M-2,-3 L2,3 M2,-3 L-2,3" stroke="#aaa" stroke-width="0.9"/></g>
<circle cx="1091.3" cy="768.7" r="18.8" fill="#4d4d4d"/>
<text x="1091.3" y="780.2" font-size="32.7" font-weight="bold" fill="#fff" stroke="#fff" stroke-width="0.7" text-anchor="middle" font-family="Liberation Sans">6</text>
<circle cx="1038.7" cy="796.9" r="18.8" fill="#4d4d4d"/>
<text x="1038.7" y="808.4" font-size="32.7" font-weight="bold" fill="#fff" stroke="#fff" stroke-width="0.7" text-anchor="middle" font-family="Liberation Sans">2</text>
<g transform="translate(986.5,833.6) scale(1.0)"><path d="M13,11 Q13,6 18,5 L54,-4.5 Q59,-5.5 59,-0.5 L59,38 Q59,43 54,44.5 L19,55 Q14,56.5 14,51.5 Z" fill="#e6e6e6" stroke="#000" stroke-width="1.5"/><path d="M17,13.5 Q17,9 22,7.5 L54.5,-1.5 Q58.5,-2.5 58.5,1.5 L58.5,38 Q58.5,42 54,43.5 L21,53.5 Q17,54.5 17,50.5 Z" fill="#fff" stroke="#000" stroke-width="1.2"/><path d="M0.5,25.6 L19,22 L19,35.2 L1,38.6 Q-0.5,38 -0.5,35 Z" fill="#fff" stroke="#000" stroke-width="1.3"/><path d="M0.5,25.6 L19,22 L19,25.5 L0.5,29 Z" fill="#999" stroke="#000" stroke-width="0.9"/><path d="M26,16.5 L47,17 Q58.5,19 58.5,30.5 Q58.5,42 47,44 L26,40.5 Q19.5,36 19.5,28.5 Q19.5,20 26,16.5 Z" fill="#fff" stroke="#000" stroke-width="1.4"/><line x1="22.4" y1="19" x2="43" y2="19.6" stroke="#000" stroke-width="0.8"/><line x1="22.0" y1="22" x2="43" y2="22.6" stroke="#000" stroke-width="0.8"/><line x1="21.6" y1="25" x2="43" y2="25.6" stroke="#000" stroke-width="0.8"/><line x1="21.2" y1="28" x2="43" y2="28.6" stroke="#000" stroke-width="0.8"/><line x1="21.2" y1="31" x2="43" y2="31.6" stroke="#000" stroke-width="0.8"/><line x1="21.6" y1="34" x2="43" y2="34.6" stroke="#000" stroke-width="0.8"/><line x1="22.0" y1="37" x2="43" y2="37.6" stroke="#000" stroke-width="0.8"/><line x1="22.4" y1="40" x2="43" y2="40.6" stroke="#000" stroke-width="0.8"/><ellipse cx="49.3" cy="30.4" rx="9.4" ry="13.6" fill="#fff" stroke="#000" stroke-width="1.4"/><ellipse cx="49.8" cy="30.4" rx="5.8" ry="8.4" fill="#fff" stroke="#000" stroke-width="1.3"/></g>
<g transform="translate(947,881) rotate(0) scale(1.000,0.976)"><path d="M2.5,-19.5 Q6.5,-20.5 6,-17 C0.5,-11 -0.5,-5 -0.5,1 C-0.5,8 2,13 8,17 Q9,20.5 5,20.3 C-5.5,16.5 -9,9 -9,0 C-9,-9 -6,-16 2.5,-19.5 Z" fill="#fff" stroke="#000" stroke-width="1.4"/><path d="M-6,-9 Q-7.5,0 -5,10" fill="none" stroke="#aaa" stroke-width="1"/><ellipse cx="-4.5" cy="0.5" rx="3.4" ry="5.8" fill="#333"/></g>
<polygon transform="matrix(1,-0.3464,0,1,955.5,878)" points="0.0,-3.9 11.0,-3.9 11.0,-7.0 20.0,0.0 11.0,7.0 11.0,3.9 0.0,3.9" fill="#000"/>
<polygon transform="matrix(1,-0.3464,0,1,1077.5,845)" points="0.0,-3.9 11.0,-3.9 11.0,-7.0 20.0,0.0 11.0,7.0 11.0,3.9 0.0,3.9" fill="#000"/>
<polygon transform="matrix(-1,-0.4359,0,1,1067,891)" points="0.0,-3.9 11.0,-3.9 11.0,-7.0 20.0,0.0 11.0,7.0 11.0,3.9 0.0,3.9" fill="#000"/>
<polygon points="1123,941 1332,991 1332,1031.4 1123,973.2" fill="#999" stroke="#000" stroke-width="1.4"/>
<line x1="1124" y1="965" x2="1331" y2="1022" stroke="#000" stroke-width="1.2" stroke-dasharray="5,4"/>
<path d="M1117,874.6 L1328.4,928 L1316.5,989.8 L1095.6,934 Q1088,918 1089,902 Q1092,884 1117,874.6 Z" fill="#999" stroke="#000" stroke-width="1.5"/>
<path d="M1117,874.6 Q1092,884 1089,902 Q1088,918 1095.6,934 L1085,930 Q1072,918 1070,900 Q1070,880 1086,872 Q1100,867 1117,874.6 Z" fill="#fff" stroke="#000" stroke-width="1.3"/>
<path d="M1103,871 Q1080,878 1078,900 Q1078,918 1089,932" fill="none" stroke="#000" stroke-width="1.2"/>
<circle cx="1326" cy="960.1" r="31" fill="#fff" stroke="#000" stroke-width="1.6"/>
<circle cx="1330.3" cy="962.5" r="20.5" fill="#fff" stroke="#000" stroke-width="1.4"/>
<circle cx="1331.5" cy="962.5" r="8.3" fill="#333"/>
<line x1="1300.4" y1="981.5" x2="1300.4" y2="1045.7" stroke="#000" stroke-width="1"/>
<ellipse cx="1300.4" cy="981.5" rx="1.7" ry="2.2" fill="#000"/>
<ellipse cx="1300.4" cy="987.9" rx="1.7" ry="2.2" fill="#000"/>
<ellipse cx="1300.4" cy="994.3" rx="1.7" ry="2.2" fill="#000"/>
<ellipse cx="1300.4" cy="1000.8" rx="1.7" ry="2.2" fill="#000"/>
<ellipse cx="1300.4" cy="1007.2" rx="1.7" ry="2.2" fill="#000"/>
<ellipse cx="1300.4" cy="1013.6" rx="1.7" ry="2.2" fill="#000"/>
<ellipse cx="1300.4" cy="1020.0" rx="1.7" ry="2.2" fill="#000"/>
<ellipse cx="1300.4" cy="1026.4" rx="1.7" ry="2.2" fill="#000"/>
<ellipse cx="1300.4" cy="1032.9" rx="1.7" ry="2.2" fill="#000"/>
<ellipse cx="1300.4" cy="1039.3" rx="1.7" ry="2.2" fill="#000"/>
<ellipse cx="1300.4" cy="1045.7" rx="1.7" ry="2.2" fill="#000"/>
<circle cx="1300.4" cy="1045.7" r="2.6" fill="#000"/>
<line x1="1347.4" y1="990" x2="1347.4" y2="1048" stroke="#000" stroke-width="1"/>
<ellipse cx="1347.4" cy="990.0" rx="1.7" ry="2.2" fill="#000"/>
<ellipse cx="1347.4" cy="996.4" rx="1.7" ry="2.2" fill="#000"/>
<ellipse cx="1347.4" cy="1002.9" rx="1.7" ry="2.2" fill="#000"/>
<ellipse cx="1347.4" cy="1009.3" rx="1.7" ry="2.2" fill="#000"/>
<ellipse cx="1347.4" cy="1015.8" rx="1.7" ry="2.2" fill="#000"/>
<ellipse cx="1347.4" cy="1022.2" rx="1.7" ry="2.2" fill="#000"/>
<ellipse cx="1347.4" cy="1028.7" rx="1.7" ry="2.2" fill="#000"/>
<ellipse cx="1347.4" cy="1035.1" rx="1.7" ry="2.2" fill="#000"/>
<ellipse cx="1347.4" cy="1041.6" rx="1.7" ry="2.2" fill="#000"/>
<ellipse cx="1347.4" cy="1048.0" rx="1.7" ry="2.2" fill="#000"/>
<circle cx="1347.4" cy="1048" r="2.6" fill="#000"/>
<ellipse cx="1347" cy="1026.5" rx="9.5" ry="4.5" fill="#fff" stroke="#777" stroke-width="1"/>
<ellipse cx="1347" cy="1024" rx="9.5" ry="3.75" fill="#f0f0f0" stroke="#777" stroke-width="1"/>
<circle cx="1253.9" cy="875.8" r="18.5" fill="#4d4d4d"/>
<text x="1253.9" y="887.1" font-size="32.2" font-weight="bold" fill="#fff" stroke="#fff" stroke-width="0.7" text-anchor="middle" font-family="Liberation Sans">1</text>
<circle cx="1389" cy="924.5" r="18.5" fill="#4d4d4d"/>
<text x="1389" y="935.8" font-size="32.2" font-weight="bold" fill="#fff" stroke="#fff" stroke-width="0.7" text-anchor="middle" font-family="Liberation Sans">2</text>
<circle cx="1408" cy="1054" r="18.5" fill="#4d4d4d"/>
<text x="1408" y="1065.3" font-size="32.2" font-weight="bold" fill="#fff" stroke="#fff" stroke-width="0.7" text-anchor="middle" font-family="Liberation Sans">3</text>
<circle cx="1507.7" cy="1014.8" r="18.5" fill="#4d4d4d"/>
<text x="1507.7" y="1026.1" font-size="32.2" font-weight="bold" fill="#fff" stroke="#fff" stroke-width="0.7" text-anchor="middle" font-family="Liberation Sans">6</text>
<line x1="1392" y1="1046" x2="1364.4" y2="1033.1" stroke="#000" stroke-width="1.1"/>
<polygon transform="translate(1355.7,1029) rotate(-154.90538810451395)" points="0.0,0.0 -12.0,-5.5 -12.0,5.5" fill="#000"/>
<g transform="translate(1374.5,1013.6) rotate(0) scale(1.000,0.976)"><path d="M2.5,-19.5 Q6.5,-20.5 6,-17 C0.5,-11 -0.5,-5 -0.5,1 C-0.5,8 2,13 8,17 Q9,20.5 5,20.3 C-5.5,16.5 -9,9 -9,0 C-9,-9 -6,-16 2.5,-19.5 Z" fill="#fff" stroke="#000" stroke-width="1.4"/><path d="M-6,-9 Q-7.5,0 -5,10" fill="none" stroke="#aaa" stroke-width="1"/><ellipse cx="-4.5" cy="0.5" rx="3.4" ry="5.8" fill="#333"/></g>
<polygon transform="matrix(1,0.4201,0,1,1384,951)" points="0.0,-3.9 11.0,-3.9 11.0,-7.0 20.0,0.0 11.0,7.0 11.0,3.9 0.0,3.9" fill="#000"/>
<polygon transform="matrix(1,-0.4201,0,1,1383,1011)" points="0.0,-3.9 11.0,-3.9 11.0,-7.0 20.0,0.0 11.0,7.0 11.0,3.9 0.0,3.9" fill="#000"/>
<polygon transform="matrix(1,-0.4201,0,1,1435.3,944)" points="0.0,-3.9 11.0,-3.9 11.0,-7.0 20.0,0.0 11.0,7.0 11.0,3.9 0.0,3.9" fill="#000"/>
<path d="M1409,965 Q1409,958 1415,956 L1445,948.5 Q1452,947 1452,954 L1452,987 Q1452,993 1446,995 L1418,1002 Q1411,1004 1411,997 Z" fill="#fff" stroke="#000" stroke-width="1.5"/>
<path d="M1413,963 Q1413,959 1417,958 L1444,951" fill="none" stroke="#000" stroke-width="1"/>
<path d="M1406,977 L1412,976 L1412,994 L1406,995 Z" fill="#222" stroke="#000" stroke-width="1"/>
<path d="M1412,976 L1417,975.5 Q1419,985 1417,993 L1412,994" fill="#fff" stroke="#000" stroke-width="1.1"/>
<line x1="1497" y1="908" x2="1594" y2="850" stroke="#000" stroke-width="0.9" stroke-dasharray="4,3"/>
<line x1="1501" y1="978" x2="1594" y2="920" stroke="#000" stroke-width="0.9" stroke-dasharray="4,3"/>
<g transform="translate(1501.5,856.6) scale(1.0) translate(-1501.5,-856.6)"><polygon points="1532.9,860.5 1539.3,856.6 1579,875.2 1532.9,895" fill="#fff" stroke="#000" stroke-width="1.3"/><polygon points="1532.9,860.5 1564.2,873.9 1532.9,895" fill="#e6e6e6" stroke="#000" stroke-width="1.3"/><polygon points="1543,873.3 1555,878.5 1549,883.5 1543,881" fill="#fff" stroke="#000" stroke-width="1.1"/><path d="M1579,875.2 L1532.9,895 C1510,912 1501.5,930 1501.5,945 C1501.5,960 1510,970 1518.2,973.8 L1564.2,975 C1575,975 1580.9,970 1580.9,966.7 C1582.8,940 1582.5,900 1579,875.2 Z" fill="#fff" stroke="#000" stroke-width="1.4"/><path d="M1579,875.2 L1513,925 C1506,935 1505,955 1518.2,973.8" fill="none" stroke="#000" stroke-width="1.3"/><polygon points="1516.2,927 1557.8,908.5 1557.8,916.2 1516.2,933.4" fill="#fff" stroke="#000" stroke-width="1.3"/><polygon points="1516.2,959 1558.5,948.2 1558.5,955.8 1516.2,965.4" fill="#fff" stroke="#000" stroke-width="1.3"/></g>
<line x1="1583" y1="926.5" x2="1594" y2="920" stroke="#000" stroke-width="0.9" stroke-dasharray="3,2"/>
<line x1="1566" y1="866" x2="1594" y2="850" stroke="#000" stroke-width="0.9" stroke-dasharray="3,2"/>
<g transform="translate(1463.8,921) rotate(-21.5) scale(1.0)"><polygon points="2,-4 30,-1.2 34,0 30,1.2 2,4" fill="#222"/><line x1="6.0" y1="-4.2" x2="8.5" y2="4.2" stroke="#222" stroke-width="1.2"/><line x1="9.7" y1="-4.2" x2="12.2" y2="4.2" stroke="#222" stroke-width="1.2"/><line x1="13.4" y1="-4.2" x2="15.9" y2="4.2" stroke="#222" stroke-width="1.2"/><line x1="17.1" y1="-4.2" x2="19.6" y2="4.2" stroke="#222" stroke-width="1.2"/><line x1="20.8" y1="-4.2" x2="23.3" y2="4.2" stroke="#222" stroke-width="1.2"/><line x1="24.5" y1="-4.2" x2="27.0" y2="4.2" stroke="#222" stroke-width="1.2"/><line x1="28.200000000000003" y1="-4.2" x2="30.700000000000003" y2="4.2" stroke="#222" stroke-width="1.2"/><ellipse cx="0" cy="0" rx="4.2" ry="8.6" fill="#2a2a33" stroke="#000" stroke-width="1"/><path d="M-2,-3 L2,3 M2,-3 L-2,3" stroke="#aaa" stroke-width="0.9"/></g>
<g transform="translate(1473.3,994.6) rotate(-30) scale(1.0)"><polygon points="2,-4 30,-1.2 34,0 30,1.2 2,4" fill="#222"/><line x1="6.0" y1="-4.2" x2="8.5" y2="4.2" stroke="#222" stroke-width="1.2"/><line x1="9.7" y1="-4.2" x2="12.2" y2="4.2" stroke="#222" stroke-width="1.2"/><line x1="13.4" y1="-4.2" x2="15.9" y2="4.2" stroke="#222" stroke-width="1.2"/><line x1="17.1" y1="-4.2" x2="19.6" y2="4.2" stroke="#222" stroke-width="1.2"/><line x1="20.8" y1="-4.2" x2="23.3" y2="4.2" stroke="#222" stroke-width="1.2"/><line x1="24.5" y1="-4.2" x2="27.0" y2="4.2" stroke="#222" stroke-width="1.2"/><line x1="28.200000000000003" y1="-4.2" x2="30.700000000000003" y2="4.2" stroke="#222" stroke-width="1.2"/><ellipse cx="0" cy="0" rx="4.2" ry="8.6" fill="#2a2a33" stroke="#000" stroke-width="1"/><path d="M-2,-3 L2,3 M2,-3 L-2,3" stroke="#aaa" stroke-width="0.9"/></g>
<circle cx="1594.4" cy="849.7" r="6" fill="#aaa" stroke="#333" stroke-width="1"/>
<circle cx="1594.4" cy="919.8" r="6" fill="#aaa" stroke="#333" stroke-width="1"/>
</svg>

<svg width="2484" height="1172" viewBox="0 0 2484 1172" style="position:absolute;left:0;top:0">
<polyline points="1922.2,287.0 1922.2,245.4 2420.3,375.5" fill="none" stroke="#b3b3b3" stroke-width="2.5" stroke-dasharray="16,10"/>
<polyline points="2422.0,383.0 2422.0,613.0" fill="none" stroke="#b3b3b3" stroke-width="2.5" stroke-dasharray="16,10"/>
<g transform="translate(1942.2,304.5) scale(1.0)"><path d="M15.3,4.7 Q16,-17 34.5,-29 L87.5,-16 Q70,-9 67.6,16.2 Z" fill="#e6e6e6" stroke="#000" stroke-width="1.4"/><polygon points="0,0 67.6,16.2 67.6,107.5 0,91" fill="#fff" stroke="#000" stroke-width="1.4"/><polygon points="5.4,9.3 59.8,23.1 59.1,31.5 5.4,16.9" fill="#fff" stroke="#000" stroke-width="1.3"/><polygon points="36.8,71.5 60.7,77.6 60.7,86.1 36.8,79.9" fill="#fff" stroke="#000" stroke-width="1.3"/></g>
<g transform="translate(1881.5,326) scale(1.29,1.29)"><path d="M47,1 L72,7 Q76,9 76,13 L76,80 L44,72.5 L8,72.5 Q0,60 0,48 Q0,35 6,28 Z" fill="#fff" stroke="#000" stroke-width="1.5"/><path d="M44,5 L76,12 L76,80 L44,72.5 Z" fill="#e6e6e6" stroke="#000" stroke-width="1.5"/><path d="M6,28 L44,5" fill="none" stroke="#000" stroke-width="1.5"/><line x1="44" y1="24" x2="76" y2="31" stroke="#000" stroke-width="1.4"/><line x1="44" y1="52" x2="76" y2="59" stroke="#000" stroke-width="1.4"/><line x1="0" y1="44" x2="44" y2="24" stroke="#aaa" stroke-width="0.8"/><line x1="3" y1="58" x2="44" y2="52" stroke="#aaa" stroke-width="0.8"/><polygon points="53,12.5 68,16 68,23 53,19.5" fill="#fff" stroke="#000" stroke-width="1.3"/><polygon points="53,61 68,64.5 68,71 53,67.5" fill="#fff" stroke="#000" stroke-width="1.3"/></g>
<circle cx="2038.6" cy="326" r="18.8" fill="#4d4d4d"/>
<text x="2038.6" y="337.5" font-size="32.7" font-weight="bold" fill="#fff" stroke="#fff" stroke-width="0.7" text-anchor="middle" font-family="Liberation Sans">5</text>
<circle cx="1821.8" cy="378" r="18.8" fill="#4d4d4d"/>
<text x="1821.8" y="389.5" font-size="32.7" font-weight="bold" fill="#fff" stroke="#fff" stroke-width="0.7" text-anchor="middle" font-family="Liberation Sans">2</text>
<g transform="translate(1764.5,406) scale(1.0)"><path d="M13,11 Q13,6 18,5 L54,-4.5 Q59,-5.5 59,-0.5 L59,38 Q59,43 54,44.5 L19,55 Q14,56.5 14,51.5 Z" fill="#e6e6e6" stroke="#000" stroke-width="1.5"/><path d="M17,13.5 Q17,9 22,7.5 L54.5,-1.5 Q58.5,-2.5 58.5,1.5 L58.5,38 Q58.5,42 54,43.5 L21,53.5 Q17,54.5 17,50.5 Z" fill="#fff" stroke="#000" stroke-width="1.2"/><path d="M0.5,25.6 L19,22 L19,35.2 L1,38.6 Q-0.5,38 -0.5,35 Z" fill="#fff" stroke="#000" stroke-width="1.3"/><path d="M0.5,25.6 L19,22 L19,25.5 L0.5,29 Z" fill="#999" stroke="#000" stroke-width="0.9"/><path d="M26,16.5 L47,17 Q58.5,19 58.5,30.5 Q58.5,42 47,44 L26,40.5 Q19.5,36 19.5,28.5 Q19.5,20 26,16.5 Z" fill="#fff" stroke="#000" stroke-width="1.4"/><line x1="22.4" y1="19" x2="43" y2="19.6" stroke="#000" stroke-width="0.8"/><line x1="22.0" y1="22" x2="43" y2="22.6" stroke="#000" stroke-width="0.8"/><line x1="21.6" y1="25" x2="43" y2="25.6" stroke="#000" stroke-width="0.8"/><line x1="21.2" y1="28" x2="43" y2="28.6" stroke="#000" stroke-width="0.8"/><line x1="21.2" y1="31" x2="43" y2="31.6" stroke="#000" stroke-width="0.8"/><line x1="21.6" y1="34" x2="43" y2="34.6" stroke="#000" stroke-width="0.8"/><line x1="22.0" y1="37" x2="43" y2="37.6" stroke="#000" stroke-width="0.8"/><line x1="22.4" y1="40" x2="43" y2="40.6" stroke="#000" stroke-width="0.8"/><ellipse cx="49.3" cy="30.4" rx="9.4" ry="13.6" fill="#fff" stroke="#000" stroke-width="1.4"/><ellipse cx="49.8" cy="30.4" rx="5.8" ry="8.4" fill="#fff" stroke="#000" stroke-width="1.3"/></g>
<g transform="translate(1726,454) rotate(0) scale(1.000,0.976)"><path d="M2.5,-19.5 Q6.5,-20.5 6,-17 C0.5,-11 -0.5,-5 -0.5,1 C-0.5,8 2,13 8,17 Q9,20.5 5,20.3 C-5.5,16.5 -9,9 -9,0 C-9,-9 -6,-16 2.5,-19.5 Z" fill="#fff" stroke="#000" stroke-width="1.4"/><path d="M-6,-9 Q-7.5,0 -5,10" fill="none" stroke="#aaa" stroke-width="1"/><ellipse cx="-4.5" cy="0.5" rx="3.4" ry="5.8" fill="#333"/></g>
<polygon transform="matrix(1,-0.3464,0,1,1734,453)" points="0.0,-3.9 11.0,-3.9 11.0,-7.0 20.0,0.0 11.0,7.0 11.0,3.9 0.0,3.9" fill="#000"/>
<polygon transform="matrix(1,-0.3464,0,1,1856,419)" points="0.0,-3.9 11.0,-3.9 11.0,-7.0 20.0,0.0 11.0,7.0 11.0,3.9 0.0,3.9" fill="#000"/>
<polygon transform="matrix(-1,-0.3464,0,1,1847,465)" points="0.0,-3.9 11.0,-3.9 11.0,-7.0 20.0,0.0 11.0,7.0 11.0,3.9 0.0,3.9" fill="#000"/>
<polygon points="1900.7,514 2110,568 2110,603.7 1900.7,546.4" fill="#999" stroke="#000" stroke-width="1.4"/>
<line x1="1901" y1="536" x2="2109" y2="591" stroke="#000" stroke-width="1.2" stroke-dasharray="5,4"/>
<path d="M1893.5,447 L2105,501.6 L2079.9,559 L1872,507 Q1865,490 1866,476 Q1870,455 1893.5,447 Z" fill="#999" stroke="#000" stroke-width="1.5"/>
<path d="M1893.5,447 Q1870,455 1866,476 Q1865,490 1872,507 L1862,503 Q1848,490 1847,472 Q1848,452 1862,446 Q1876,441 1893.5,447 Z" fill="#fff" stroke="#000" stroke-width="1.3"/>
<path d="M1880,443.5 Q1857,450 1855,472 Q1856,492 1866,505" fill="none" stroke="#000" stroke-width="1.2"/>
<circle cx="2105" cy="533.9" r="31.5" fill="#fff" stroke="#000" stroke-width="1.6"/>
<circle cx="2109" cy="535.5" r="21.5" fill="#fff" stroke="#000" stroke-width="1.4"/>
<circle cx="2110" cy="535.5" r="7.9" fill="#333"/>
<line x1="2079" y1="558" x2="2079" y2="620" stroke="#000" stroke-width="1"/>
<ellipse cx="2079" cy="558.0" rx="1.7" ry="2.2" fill="#000"/>
<ellipse cx="2079" cy="564.2" rx="1.7" ry="2.2" fill="#000"/>
<ellipse cx="2079" cy="570.4" rx="1.7" ry="2.2" fill="#000"/>
<ellipse cx="2079" cy="576.6" rx="1.7" ry="2.2" fill="#000"/>
<ellipse cx="2079" cy="582.8" rx="1.7" ry="2.2" fill="#000"/>
<ellipse cx="2079" cy="589.0" rx="1.7" ry="2.2" fill="#000"/>
<ellipse cx="2079" cy="595.2" rx="1.7" ry="2.2" fill="#000"/>
<ellipse cx="2079" cy="601.4" rx="1.7" ry="2.2" fill="#000"/>
<ellipse cx="2079" cy="607.6" rx="1.7" ry="2.2" fill="#000"/>
<ellipse cx="2079" cy="613.8" rx="1.7" ry="2.2" fill="#000"/>
<ellipse cx="2079" cy="620.0" rx="1.7" ry="2.2" fill="#000"/>
<circle cx="2079" cy="620" r="2.6" fill="#000"/>
<line x1="2121" y1="566" x2="2121" y2="625" stroke="#000" stroke-width="1"/>
<ellipse cx="2121" cy="566.0" rx="1.7" ry="2.2" fill="#000"/>
<ellipse cx="2121" cy="572.6" rx="1.7" ry="2.2" fill="#000"/>
<ellipse cx="2121" cy="579.1" rx="1.7" ry="2.2" fill="#000"/>
<ellipse cx="2121" cy="585.7" rx="1.7" ry="2.2" fill="#000"/>
<ellipse cx="2121" cy="592.2" rx="1.7" ry="2.2" fill="#000"/>
<ellipse cx="2121" cy="598.8" rx="1.7" ry="2.2" fill="#000"/>
<ellipse cx="2121" cy="605.3" rx="1.7" ry="2.2" fill="#000"/>
<ellipse cx="2121" cy="611.9" rx="1.7" ry="2.2" fill="#000"/>
<ellipse cx="2121" cy="618.4" rx="1.7" ry="2.2" fill="#000"/>
<ellipse cx="2121" cy="625.0" rx="1.7" ry="2.2" fill="#000"/>
<circle cx="2121" cy="625" r="2.6" fill="#000"/>
<ellipse cx="2121" cy="586.5" rx="9.5" ry="4.5" fill="#fff" stroke="#777" stroke-width="1"/>
<ellipse cx="2121" cy="584" rx="9.5" ry="3.75" fill="#f0f0f0" stroke="#777" stroke-width="1"/>
<circle cx="2033.3" cy="459.3" r="18.8" fill="#4d4d4d"/>
<text x="2033.3" y="470.8" font-size="32.7" font-weight="bold" fill="#fff" stroke="#fff" stroke-width="0.7" text-anchor="middle" font-family="Liberation Sans">1</text>
<circle cx="2171.2" cy="496.2" r="18.8" fill="#4d4d4d"/>
<text x="2171.2" y="507.7" font-size="32.7" font-weight="bold" fill="#fff" stroke="#fff" stroke-width="0.7" text-anchor="middle" font-family="Liberation Sans">2</text>
<circle cx="2169.4" cy="637.8" r="18.8" fill="#4d4d4d"/>
<text x="2169.4" y="649.3" font-size="32.7" font-weight="bold" fill="#fff" stroke="#fff" stroke-width="0.7" text-anchor="middle" font-family="Liberation Sans">3</text>
<circle cx="2286" cy="397.7" r="18.8" fill="#4d4d4d"/>
<text x="2286" y="409.2" font-size="32.7" font-weight="bold" fill="#fff" stroke="#fff" stroke-width="0.7" text-anchor="middle" font-family="Liberation Sans">5</text>
<line x1="2158" y1="622" x2="2136.3" y2="597.2" stroke="#000" stroke-width="1.1"/>
<polygon transform="translate(2130,590) rotate(-131.18592516570965)" points="0.0,0.0 -12.0,-5.5 -12.0,5.5" fill="#000"/>
<g transform="translate(2152.5,586.6) rotate(0) scale(1.000,0.976)"><path d="M2.5,-19.5 Q6.5,-20.5 6,-17 C0.5,-11 -0.5,-5 -0.5,1 C-0.5,8 2,13 8,17 Q9,20.5 5,20.3 C-5.5,16.5 -9,9 -9,0 C-9,-9 -6,-16 2.5,-19.5 Z" fill="#fff" stroke="#000" stroke-width="1.4"/><path d="M-6,-9 Q-7.5,0 -5,10" fill="none" stroke="#aaa" stroke-width="1"/><ellipse cx="-4.5" cy="0.5" rx="3.4" ry="5.8" fill="#333"/></g>
<polygon transform="matrix(1,0.4201,0,1,2162.3,525)" points="0.0,-3.9 11.0,-3.9 11.0,-7.0 20.0,0.0 11.0,7.0 11.0,3.9 0.0,3.9" fill="#000"/>
<polygon transform="matrix(1,-0.3464,0,1,2212.5,516)" points="0.0,-3.9 11.0,-3.9 11.0,-7.0 20.0,0.0 11.0,7.0 11.0,3.9 0.0,3.9" fill="#000"/>
<polygon transform="matrix(1,-0.4201,0,1,2160.5,584)" points="0.0,-3.9 11.0,-3.9 11.0,-7.0 20.0,0.0 11.0,7.0 11.0,3.9 0.0,3.9" fill="#000"/>
<path d="M2191,542 Q2191,536 2197,534.5 L2223,527 Q2230,525 2230,531.5 L2230.4,559 Q2230.4,565 2224.5,567 L2200,574.5 Q2193,576.5 2193,570 Z" fill="#fff" stroke="#000" stroke-width="1.5"/>
<path d="M2195,540 Q2195,537 2198,536.5 L2222,529.5" fill="none" stroke="#000" stroke-width="1"/>
<path d="M2183,551 L2189,550 L2189,567 L2183,568 Z" fill="#222" stroke="#000" stroke-width="1"/>
<path d="M2189,550 L2194,549.5 Q2196,558 2194,566 L2189,567" fill="#fff" stroke="#000" stroke-width="1.1"/>
<path d="M2334.3,404.8 Q2336,385 2355.8,374.4 L2407.8,392.3 Q2392,398 2388,424.6 Z" fill="#e6e6e6" stroke="#000" stroke-width="1.4"/>
<polygon points="2320,395.9 2388,424.6 2388,519.5 2320,490.9" fill="#fff" stroke="#000" stroke-width="1.4"/>
<polygon points="2325.4,408.4 2379,428.1 2379,436.7 2325.4,417" fill="#fff" stroke="#000" stroke-width="1.3"/>
<polygon points="2354,471 2379,480 2379,488.9 2354,479.9" fill="#fff" stroke="#000" stroke-width="1.3"/>
<g transform="translate(2273.4,433.5) scale(1.0) translate(-1501.5,-856.6)"><polygon points="1532.9,860.5 1539.3,856.6 1579,875.2 1532.9,895" fill="#fff" stroke="#000" stroke-width="1.3"/><polygon points="1532.9,860.5 1564.2,873.9 1532.9,895" fill="#e6e6e6" stroke="#000" stroke-width="1.3"/><polygon points="1543,873.3 1555,878.5 1549,883.5 1543,881" fill="#fff" stroke="#000" stroke-width="1.1"/><path d="M1579,875.2 L1532.9,895 C1510,912 1501.5,930 1501.5,945 C1501.5,960 1510,970 1518.2,973.8 L1564.2,975 C1575,975 1580.9,970 1580.9,966.7 C1582.8,940 1582.5,900 1579,875.2 Z" fill="#fff" stroke="#000" stroke-width="1.4"/><path d="M1579,875.2 L1513,925 C1506,935 1505,955 1518.2,973.8" fill="none" stroke="#000" stroke-width="1.3"/><polygon points="1516.2,927 1557.8,908.5 1557.8,916.2 1516.2,933.4" fill="#fff" stroke="#000" stroke-width="1.3"/><polygon points="1516.2,959 1558.5,948.2 1558.5,955.8 1516.2,965.4" fill="#fff" stroke="#000" stroke-width="1.3"/></g>
</svg>

<svg width="2484" height="1172" viewBox="0 0 2484 1172" style="position:absolute;left:0;top:0">
<polyline points="1819.5,717.7 1707.7,855.0 2296.4,1014.0 2416.0,845.2" fill="none" stroke="#b3b3b3" stroke-width="2.5" stroke-dasharray="16,10"/>
<line x1="1849" y1="720" x2="1849" y2="888" stroke="#000" stroke-width="0.9" stroke-dasharray="3,2.5"/>
<line x1="1880.7" y1="715" x2="1880.7" y2="886" stroke="#000" stroke-width="0.9" stroke-dasharray="3,2.5"/>
<line x1="2235.5" y1="875" x2="2235.5" y2="1010" stroke="#000" stroke-width="0.9" stroke-dasharray="3,2.5"/>
<line x1="2260" y1="849.7" x2="2260" y2="889" stroke="#000" stroke-width="0.9" stroke-dasharray="3,2.5"/>
<path d="M1817,796 L1820,866 Q1822,874 1830,870 Q1850,860 1858.3,853.6 L1859.8,812 Z" fill="#e6e6e6" stroke="#000" stroke-width="1.4"/>
<path d="M1817,796 L1820,866 Q1821,872 1824,871 L1823,800 Z" fill="#fff" stroke="#000" stroke-width="1"/>
<polygon points="1827.6,827 1833.7,823 1833.7,860 1827.6,864" fill="#fff" stroke="#000" stroke-width="1.2"/>
<polygon points="1844.5,815 1850.6,812 1850.6,839 1844.5,843" fill="#fff" stroke="#000" stroke-width="1.2"/>
<path d="M1816.8,792.2 L1863,756 Q1866,754 1870,755.5 L1899,764.5 Q1903,767 1900,770 L1862,811 Q1859,813.7 1855,812.5 L1819,799 Q1815,797 1816.8,792.2 Z" fill="#fff" stroke="#000" stroke-width="1.4"/>
<polygon points="1840,794 1848,788 1858,791 1850,797" fill="#fff" stroke="#000" stroke-width="1.2"/>
<polygon points="1872,766 1880,760.5 1890,763.5 1882,769" fill="#fff" stroke="#000" stroke-width="1.2"/>
<g transform="translate(1849,921.2)"><polygon points="-3.6,-2 -3,-29 0,-37 3,-29 3.6,-2" fill="#222"/><line x1="-4.3" y1="-4.0" x2="4.3" y2="-6.2" stroke="#222" stroke-width="1.2"/><line x1="-4.3" y1="-7.6" x2="4.3" y2="-9.8" stroke="#222" stroke-width="1.2"/><line x1="-4.3" y1="-11.2" x2="4.3" y2="-13.4" stroke="#222" stroke-width="1.2"/><line x1="-4.3" y1="-14.8" x2="4.3" y2="-17.0" stroke="#222" stroke-width="1.2"/><line x1="-4.3" y1="-18.4" x2="4.3" y2="-20.6" stroke="#222" stroke-width="1.2"/><line x1="-4.3" y1="-22.0" x2="4.3" y2="-24.2" stroke="#222" stroke-width="1.2"/><line x1="-4.3" y1="-25.6" x2="4.3" y2="-27.8" stroke="#222" stroke-width="1.2"/><line x1="-4.3" y1="-29.2" x2="4.3" y2="-31.4" stroke="#222" stroke-width="1.2"/><ellipse cx="0" cy="0" rx="9.5" ry="4.6" fill="#2a2a33" stroke="#000" stroke-width="1"/><path d="M-3,-1.5 L3,1.5 M3,-1.5 L-3,1.5" stroke="#aaa" stroke-width="0.9"/></g>
<g transform="translate(1879.8,918.5)"><polygon points="-3.6,-2 -3,-29 0,-37 3,-29 3.6,-2" fill="#222"/><line x1="-4.3" y1="-4.0" x2="4.3" y2="-6.2" stroke="#222" stroke-width="1.2"/><line x1="-4.3" y1="-7.6" x2="4.3" y2="-9.8" stroke="#222" stroke-width="1.2"/><line x1="-4.3" y1="-11.2" x2="4.3" y2="-13.4" stroke="#222" stroke-width="1.2"/><line x1="-4.3" y1="-14.8" x2="4.3" y2="-17.0" stroke="#222" stroke-width="1.2"/><line x1="-4.3" y1="-18.4" x2="4.3" y2="-20.6" stroke="#222" stroke-width="1.2"/><line x1="-4.3" y1="-22.0" x2="4.3" y2="-24.2" stroke="#222" stroke-width="1.2"/><line x1="-4.3" y1="-25.6" x2="4.3" y2="-27.8" stroke="#222" stroke-width="1.2"/><line x1="-4.3" y1="-29.2" x2="4.3" y2="-31.4" stroke="#222" stroke-width="1.2"/><ellipse cx="0" cy="0" rx="9.5" ry="4.6" fill="#2a2a33" stroke="#000" stroke-width="1"/><path d="M-3,-1.5 L3,1.5 M3,-1.5 L-3,1.5" stroke="#aaa" stroke-width="0.9"/></g>
<polygon transform="translate(1828,932) rotate(-90)" points="0.0,-3.9 11.0,-3.9 11.0,-7.0 20.0,0.0 11.0,7.0 11.0,3.9 0.0,3.9" fill="#000"/>
<polygon transform="translate(1828,1022.6) rotate(-90)" points="0.0,-3.9 11.0,-3.9 11.0,-7.0 20.0,0.0 11.0,7.0 11.0,3.9 0.0,3.9" fill="#000"/>
<circle cx="1781.5" cy="913.5" r="18.8" fill="#4d4d4d"/>
<text x="1781.5" y="925.0" font-size="32.7" font-weight="bold" fill="#fff" stroke="#fff" stroke-width="0.7" text-anchor="middle" font-family="Liberation Sans">2</text>
<path d="M1817.7,946 Q1817.7,940 1823,938.5 L1848,931.5 Q1853,930.2 1853,935 L1853,982 Q1853,985.5 1849.5,986.5 L1823,994.5 Q1817.7,996 1817.7,990 Z" fill="#e6e6e6" stroke="#000" stroke-width="1.4"/>
<path d="M1821,947.5 Q1821,942.5 1825.5,941.2 L1849,934 Q1853,933 1853,937 L1853,982 Q1853,985.5 1849.5,986.5 L1824,993.5 Q1821,994 1821,991 Z" fill="#fff" stroke="#000" stroke-width="1.1"/>
<path d="M1836,975 L1836,989.5 Q1836.5,991 1839,990.2 L1846.5,988 L1846.5,977 Z" fill="#fff" stroke="#000" stroke-width="1.2"/>
<path d="M1846.5,987.5 Q1853,985 1853.5,977" fill="none" stroke="#000" stroke-width="1.2"/>
<path d="M1838.5,952.5 L1859,955 L1859,980 L1838,975.5 Q1830.5,971.5 1830.5,964 Q1830.5,955.5 1838.5,952.5 Z" fill="#fff" stroke="#000" stroke-width="1.4"/>
<line x1="1832" y1="955.5" x2="1854" y2="957.1" stroke="#000" stroke-width="0.8"/>
<line x1="1832" y1="958.2" x2="1854" y2="959.8" stroke="#000" stroke-width="0.8"/>
<line x1="1832" y1="960.9" x2="1854" y2="962.5" stroke="#000" stroke-width="0.8"/>
<line x1="1832" y1="963.6" x2="1854" y2="965.2" stroke="#000" stroke-width="0.8"/>
<line x1="1832" y1="966.3" x2="1854" y2="967.9" stroke="#000" stroke-width="0.8"/>
<line x1="1832" y1="969.0" x2="1854" y2="970.6" stroke="#000" stroke-width="0.8"/>
<line x1="1832" y1="971.7" x2="1854" y2="973.3" stroke="#000" stroke-width="0.8"/>
<line x1="1832" y1="974.4" x2="1854" y2="976.0" stroke="#000" stroke-width="0.8"/>
<ellipse cx="1861" cy="967" rx="9.2" ry="13.2" fill="#fff" stroke="#000" stroke-width="1.4"/>
<ellipse cx="1861.3" cy="967" rx="5.4" ry="7.8" fill="#fff" stroke="#000" stroke-width="1.3"/>
<polygon transform="matrix(1,-0.2424,0,1,1875.2,946)" points="0.0,-3.9 11.0,-3.9 11.0,-7.0 20.0,0.0 11.0,7.0 11.0,3.9 0.0,3.9" fill="#000"/>
<g transform="translate(1838.5,1032)"><path d="M-19.5,0 Q-2,-1 17,-10.5 Q20.5,-9.5 20,-4.5 Q13,10 -6,11.5 Q-18,12.5 -20.5,5 Q-21,1.5 -19.5,0 Z" fill="#fff" stroke="#000" stroke-width="1.4"/><path d="M-16,4 Q3,4 17.5,-6.5" fill="none" stroke="#999" stroke-width="1"/><ellipse cx="1.5" cy="6.5" rx="5.5" ry="3.6" transform="rotate(-18 1.5 6.5)" fill="#333"/></g>
<polygon points="1949,910 2159,959 2159,1000.2 1949,943.3" fill="#999" stroke="#000" stroke-width="1.4"/>
<line x1="1950" y1="930" x2="2158" y2="981" stroke="#000" stroke-width="1.2" stroke-dasharray="5,4"/>
<polyline points="1949.0,922.0 2159.0,979.0" fill="none" stroke="#c8c8c8" stroke-width="2.5" stroke-dasharray="16,10"/>
<path d="M1945,843.2 L2161,898.2 L2133.5,959 L1925.5,904 Q1918,888 1919,874 Q1922,852 1945,843.2 Z" fill="#999" stroke="#000" stroke-width="1.5"/>
<path d="M1945,843.2 Q1922,852 1919,874 Q1918,888 1925.5,904 L1915,900 Q1902,888 1901,870 Q1902,850 1916,843 Q1930,838 1945,843.2 Z" fill="#fff" stroke="#000" stroke-width="1.3"/>
<path d="M1932,839.5 Q1909,846 1908,870 Q1909,888 1919,902" fill="none" stroke="#000" stroke-width="1.2"/>
<path d="M1889,850 L1900,847 L1901,864 L1890,867 Q1885,858 1889,850 Z" fill="#444" stroke="#000" stroke-width="1"/>
<circle cx="2155" cy="929.6" r="30.6" fill="#fff" stroke="#000" stroke-width="1.6"/>
<circle cx="2159" cy="931" r="21.6" fill="#fff" stroke="#000" stroke-width="1.4"/>
<circle cx="2160" cy="931" r="7.8" fill="#333"/>
<line x1="2127.6" y1="953" x2="2127.6" y2="1014" stroke="#000" stroke-width="1"/>
<ellipse cx="2127.6" cy="953.0" rx="1.7" ry="2.2" fill="#000"/>
<ellipse cx="2127.6" cy="959.1" rx="1.7" ry="2.2" fill="#000"/>
<ellipse cx="2127.6" cy="965.2" rx="1.7" ry="2.2" fill="#000"/>
<ellipse cx="2127.6" cy="971.3" rx="1.7" ry="2.2" fill="#000"/>
<ellipse cx="2127.6" cy="977.4" rx="1.7" ry="2.2" fill="#000"/>
<ellipse cx="2127.6" cy="983.5" rx="1.7" ry="2.2" fill="#000"/>
<ellipse cx="2127.6" cy="989.6" rx="1.7" ry="2.2" fill="#000"/>
<ellipse cx="2127.6" cy="995.7" rx="1.7" ry="2.2" fill="#000"/>
<ellipse cx="2127.6" cy="1001.8" rx="1.7" ry="2.2" fill="#000"/>
<ellipse cx="2127.6" cy="1007.9" rx="1.7" ry="2.2" fill="#000"/>
<ellipse cx="2127.6" cy="1014.0" rx="1.7" ry="2.2" fill="#000"/>
<circle cx="2127.6" cy="1014" r="2.6" fill="#000"/>
<line x1="2170.8" y1="958" x2="2170.8" y2="1020" stroke="#000" stroke-width="1"/>
<ellipse cx="2170.8" cy="958.0" rx="1.7" ry="2.2" fill="#000"/>
<ellipse cx="2170.8" cy="964.2" rx="1.7" ry="2.2" fill="#000"/>
<ellipse cx="2170.8" cy="970.4" rx="1.7" ry="2.2" fill="#000"/>
<ellipse cx="2170.8" cy="976.6" rx="1.7" ry="2.2" fill="#000"/>
<ellipse cx="2170.8" cy="982.8" rx="1.7" ry="2.2" fill="#000"/>
<ellipse cx="2170.8" cy="989.0" rx="1.7" ry="2.2" fill="#000"/>
<ellipse cx="2170.8" cy="995.2" rx="1.7" ry="2.2" fill="#000"/>
<ellipse cx="2170.8" cy="1001.4" rx="1.7" ry="2.2" fill="#000"/>
<ellipse cx="2170.8" cy="1007.6" rx="1.7" ry="2.2" fill="#000"/>
<ellipse cx="2170.8" cy="1013.8" rx="1.7" ry="2.2" fill="#000"/>
<ellipse cx="2170.8" cy="1020.0" rx="1.7" ry="2.2" fill="#000"/>
<circle cx="2170.8" cy="1020" r="2.6" fill="#000"/>
<ellipse cx="2172" cy="997.5" rx="9.5" ry="4.5" fill="#fff" stroke="#777" stroke-width="1"/>
<ellipse cx="2172" cy="995" rx="9.5" ry="3.75" fill="#f0f0f0" stroke="#777" stroke-width="1"/>
<circle cx="2064.8" cy="843.2" r="18.8" fill="#4d4d4d"/>
<text x="2064.8" y="854.7" font-size="32.7" font-weight="bold" fill="#fff" stroke="#fff" stroke-width="0.7" text-anchor="middle" font-family="Liberation Sans">1</text>
<circle cx="2206" cy="1055.2" r="18.8" fill="#4d4d4d"/>
<text x="2206" y="1066.7" font-size="32.7" font-weight="bold" fill="#fff" stroke="#fff" stroke-width="0.7" text-anchor="middle" font-family="Liberation Sans">3</text>
<circle cx="2322.6" cy="1045.4" r="18.8" fill="#4d4d4d"/>
<text x="2322.6" y="1056.9" font-size="32.7" font-weight="bold" fill="#fff" stroke="#fff" stroke-width="0.7" text-anchor="middle" font-family="Liberation Sans">2</text>
<line x1="2197.5" y1="1038.5" x2="2181.4" y2="1012.7" stroke="#000" stroke-width="1.1"/>
<polygon transform="translate(2176.3,1004.6) rotate(-122.02057296899814)" points="0.0,0.0 -12.0,-5.5 -12.0,5.5" fill="#000"/>
<polygon transform="matrix(1,0.2424,0,1,2187.6,934)" points="0.0,-3.9 11.0,-3.9 11.0,-7.0 20.0,0.0 11.0,7.0 11.0,3.9 0.0,3.9" fill="#000"/>
<path d="M2258,932.8 L2260.8,996 Q2262,1003 2270,999 Q2292,990 2297.5,970.8 L2298.9,893.4 L2252,925 Z" fill="#fff" stroke="#000" stroke-width="1.4"/>
<polygon points="2265,946 2273.5,942.7 2273.5,988 2265,992" fill="#fff" stroke="#000" stroke-width="1.2"/>
<polygon points="2267,949 2271.5,947 2271.5,986 2267,988" fill="#e6e6e6"/>
<polygon points="2284.8,926 2293.2,923 2293.2,966 2284.8,969.4" fill="#fff" stroke="#000" stroke-width="1.2"/>
<polygon points="2286.8,929 2291.2,927 2291.2,964 2286.8,966" fill="#e6e6e6"/>
<path d="M2210.1,913.1 L2252,878 Q2256,875.5 2260,877 L2296,888 Q2300,890 2298.9,895 L2258,930 Q2254,933 2250,931.5 L2212,920 Q2208,917 2210.1,913.1 Z" fill="#fff" stroke="#000" stroke-width="1.4"/>
<path d="M2211,919.5 L2254,932.8 L2298.9,894" fill="none" stroke="#000" stroke-width="1.2"/>
<polygon points="2227,912 2235,905.5 2249.6,909.5 2241,916" fill="#fff" stroke="#000" stroke-width="1.2"/>
<polygon points="2249.6,889 2257,883 2272,887.5 2264,893.4" fill="#fff" stroke="#000" stroke-width="1.2"/>
<g transform="translate(2235.5,1044)"><polygon points="-3.6,-2 -3,-29 0,-37 3,-29 3.6,-2" fill="#222"/><line x1="-4.3" y1="-4.0" x2="4.3" y2="-6.2" stroke="#222" stroke-width="1.2"/><line x1="-4.3" y1="-7.6" x2="4.3" y2="-9.8" stroke="#222" stroke-width="1.2"/><line x1="-4.3" y1="-11.2" x2="4.3" y2="-13.4" stroke="#222" stroke-width="1.2"/><line x1="-4.3" y1="-14.8" x2="4.3" y2="-17.0" stroke="#222" stroke-width="1.2"/><line x1="-4.3" y1="-18.4" x2="4.3" y2="-20.6" stroke="#222" stroke-width="1.2"/><line x1="-4.3" y1="-22.0" x2="4.3" y2="-24.2" stroke="#222" stroke-width="1.2"/><line x1="-4.3" y1="-25.6" x2="4.3" y2="-27.8" stroke="#222" stroke-width="1.2"/><line x1="-4.3" y1="-29.2" x2="4.3" y2="-31.4" stroke="#222" stroke-width="1.2"/><ellipse cx="0" cy="0" rx="9.5" ry="4.6" fill="#2a2a33" stroke="#000" stroke-width="1"/><path d="M-3,-1.5 L3,1.5 M3,-1.5 L-3,1.5" stroke="#aaa" stroke-width="0.9"/></g>
<g transform="translate(2259.4,1044)"><polygon points="-3.6,-2 -3,-29 0,-37 3,-29 3.6,-2" fill="#222"/><line x1="-4.3" y1="-4.0" x2="4.3" y2="-6.2" stroke="#222" stroke-width="1.2"/><line x1="-4.3" y1="-7.6" x2="4.3" y2="-9.8" stroke="#222" stroke-width="1.2"/><line x1="-4.3" y1="-11.2" x2="4.3" y2="-13.4" stroke="#222" stroke-width="1.2"/><line x1="-4.3" y1="-14.8" x2="4.3" y2="-17.0" stroke="#222" stroke-width="1.2"/><line x1="-4.3" y1="-18.4" x2="4.3" y2="-20.6" stroke="#222" stroke-width="1.2"/><line x1="-4.3" y1="-22.0" x2="4.3" y2="-24.2" stroke="#222" stroke-width="1.2"/><line x1="-4.3" y1="-25.6" x2="4.3" y2="-27.8" stroke="#222" stroke-width="1.2"/><line x1="-4.3" y1="-29.2" x2="4.3" y2="-31.4" stroke="#222" stroke-width="1.2"/><ellipse cx="0" cy="0" rx="9.5" ry="4.6" fill="#2a2a33" stroke="#000" stroke-width="1"/><path d="M-3,-1.5 L3,1.5 M3,-1.5 L-3,1.5" stroke="#aaa" stroke-width="0.9"/></g>
<polygon transform="translate(2287,1033) rotate(-90)" points="0.0,-3.9 11.0,-3.9 11.0,-7.0 20.0,0.0 11.0,7.0 11.0,3.9 0.0,3.9" fill="#000"/>
<path d="M2266.5,1063.8 L2288,1046 Q2291,1044 2291.5,1048 L2291.8,1083 Q2291.8,1086 2289,1088 L2269,1106 Q2266.5,1108 2266.5,1104 Z" fill="#fff" stroke="#000" stroke-width="1.5"/>
<path d="M2269,1065 L2289,1048.5" fill="none" stroke="#000" stroke-width="1"/>
<polygon points="2277.7,1095 2284.8,1090 2284.8,1101 2277.7,1106" fill="#333" stroke="#000" stroke-width="1"/>
<polygon transform="translate(2272,1133) rotate(-90)" points="0.0,-3.9 11.0,-3.9 11.0,-7.0 20.0,0.0 11.0,7.0 11.0,3.9 0.0,3.9" fill="#000"/>
<g transform="translate(2276.5,1140.5)"><path d="M-19.5,0 Q-2,-1 17,-10.5 Q20.5,-9.5 20,-4.5 Q13,10 -6,11.5 Q-18,12.5 -20.5,5 Q-21,1.5 -19.5,0 Z" fill="#fff" stroke="#000" stroke-width="1.4"/><path d="M-16,4 Q3,4 17.5,-6.5" fill="none" stroke="#999" stroke-width="1"/><ellipse cx="1.5" cy="6.5" rx="5.5" ry="3.6" transform="rotate(-18 1.5 6.5)" fill="#333"/></g>
</svg>

</body></html>
